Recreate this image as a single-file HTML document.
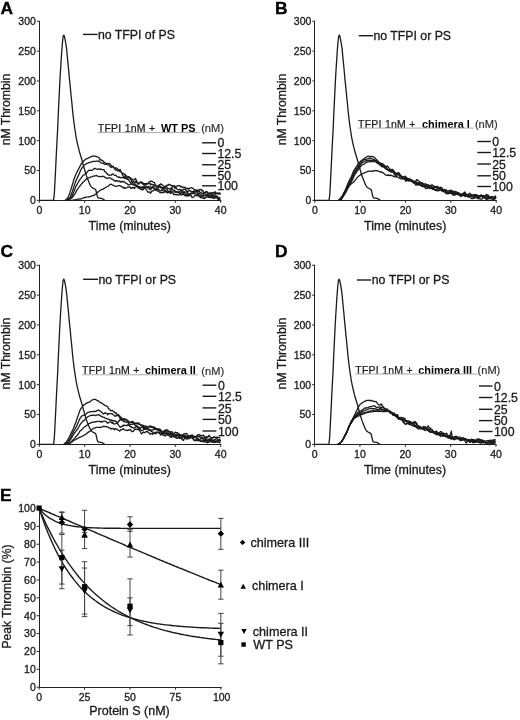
<!DOCTYPE html>
<html><head><meta charset="utf-8"><style>
html,body{margin:0;padding:0;background:#fff;}
svg{display:block;filter:blur(0.4px);}
text{font-family:"Liberation Sans", sans-serif;}
</style></head><body>
<svg width="520" height="720" viewBox="0 0 520 720">
<rect width="520" height="720" fill="#fff"/>
<text x="0.6" y="13.65" font-size="17.4" font-weight="bold" fill="#000" stroke="#000" stroke-width="0.35">A</text>
<line x1="39.5" y1="201" x2="39.5" y2="20.75" stroke="#222" stroke-width="1.0"/>
<line x1="39" y1="200.5" x2="221.3" y2="200.5" stroke="#222" stroke-width="1.0"/>
<line x1="36.8" y1="200.35" x2="39.3" y2="200.35" stroke="#2a2a2a" stroke-width="1"/>
<text x="35.9" y="204.25" font-size="10.5" text-anchor="end" fill="#1a1a1a" stroke="#1a1a1a" stroke-width="0.3" >0</text>
<line x1="36.8" y1="170.5" x2="39.3" y2="170.5" stroke="#2a2a2a" stroke-width="1"/>
<text x="35.9" y="174.4" font-size="10.5" text-anchor="end" fill="#1a1a1a" stroke="#1a1a1a" stroke-width="0.3" >50</text>
<line x1="36.8" y1="140.65" x2="39.3" y2="140.65" stroke="#2a2a2a" stroke-width="1"/>
<text x="35.9" y="144.55" font-size="10.5" text-anchor="end" fill="#1a1a1a" stroke="#1a1a1a" stroke-width="0.3" >100</text>
<line x1="36.8" y1="110.8" x2="39.3" y2="110.8" stroke="#2a2a2a" stroke-width="1"/>
<text x="35.9" y="114.7" font-size="10.5" text-anchor="end" fill="#1a1a1a" stroke="#1a1a1a" stroke-width="0.3" >150</text>
<line x1="36.8" y1="80.95" x2="39.3" y2="80.95" stroke="#2a2a2a" stroke-width="1"/>
<text x="35.9" y="84.85" font-size="10.5" text-anchor="end" fill="#1a1a1a" stroke="#1a1a1a" stroke-width="0.3" >200</text>
<line x1="36.8" y1="51.1" x2="39.3" y2="51.1" stroke="#2a2a2a" stroke-width="1"/>
<text x="35.9" y="55" font-size="10.5" text-anchor="end" fill="#1a1a1a" stroke="#1a1a1a" stroke-width="0.3" >250</text>
<line x1="36.8" y1="21.25" x2="39.3" y2="21.25" stroke="#2a2a2a" stroke-width="1"/>
<text x="35.9" y="25.15" font-size="10.5" text-anchor="end" fill="#1a1a1a" stroke="#1a1a1a" stroke-width="0.3" >300</text>
<line x1="39.3" y1="200.35" x2="39.3" y2="202.85" stroke="#2a2a2a" stroke-width="1"/>
<text x="39.3" y="213.75" font-size="10.5" text-anchor="middle" fill="#1a1a1a" stroke="#1a1a1a" stroke-width="0.3" >0</text>
<line x1="84.65" y1="200.35" x2="84.65" y2="202.85" stroke="#2a2a2a" stroke-width="1"/>
<text x="84.65" y="213.75" font-size="10.5" text-anchor="middle" fill="#1a1a1a" stroke="#1a1a1a" stroke-width="0.3" >10</text>
<line x1="130" y1="200.35" x2="130" y2="202.85" stroke="#2a2a2a" stroke-width="1"/>
<text x="130" y="213.75" font-size="10.5" text-anchor="middle" fill="#1a1a1a" stroke="#1a1a1a" stroke-width="0.3" >20</text>
<line x1="175.35" y1="200.35" x2="175.35" y2="202.85" stroke="#2a2a2a" stroke-width="1"/>
<text x="175.35" y="213.75" font-size="10.5" text-anchor="middle" fill="#1a1a1a" stroke="#1a1a1a" stroke-width="0.3" >30</text>
<line x1="220.7" y1="200.35" x2="220.7" y2="202.85" stroke="#2a2a2a" stroke-width="1"/>
<text x="220.7" y="213.75" font-size="10.5" text-anchor="middle" fill="#1a1a1a" stroke="#1a1a1a" stroke-width="0.3" >40</text>
<text x="129.7" y="230.15" font-size="12.4" text-anchor="middle" fill="#1a1a1a" stroke="#1a1a1a" stroke-width="0.3" >Time (minutes)</text>
<text x="10.4" y="109.55" font-size="12.2" text-anchor="middle" fill="#1a1a1a" stroke="#1a1a1a" stroke-width="0.3" transform="rotate(-90 10.4 109.55)">nM Thrombin</text>
<line x1="82.9" y1="34.4" x2="97.7" y2="34.4" stroke="#1a1a1a" stroke-width="1.4"/>
<text x="97.89" y="39.2" font-size="12.3" text-anchor="start" fill="#1a1a1a" stroke="#1a1a1a" stroke-width="0.3" >no TFPI of PS</text>
<text x="97.77" y="132" font-size="10.5" letter-spacing="0.25" fill="#1a1a1a" stroke="#1a1a1a" stroke-width="0.24">TFPI 1nM +</text>
<text x="160.99" y="132" font-size="10.9" text-anchor="start" font-weight="bold" fill="#000" >WT PS</text>
<text x="201.13" y="132.3" font-size="11.1" fill="#333" stroke="#333" stroke-width="0.21">(nM)</text>
<line x1="98" y1="132.6" x2="199.6" y2="132.6" stroke="#aaa" stroke-width="1.0"/>
<line x1="202.1" y1="142.8" x2="216" y2="142.8" stroke="#1a1a1a" stroke-width="1.4"/>
<text x="217.38" y="147.4" font-size="12.3" text-anchor="start" fill="#1a1a1a" stroke="#1a1a1a" stroke-width="0.3" >0</text>
<line x1="202.1" y1="153.5" x2="216" y2="153.5" stroke="#1a1a1a" stroke-width="1.4"/>
<text x="217.38" y="158.1" font-size="12.3" text-anchor="start" fill="#1a1a1a" stroke="#1a1a1a" stroke-width="0.3" >12.5</text>
<line x1="202.1" y1="164.8" x2="216" y2="164.8" stroke="#1a1a1a" stroke-width="1.4"/>
<text x="217.38" y="169.4" font-size="12.3" text-anchor="start" fill="#1a1a1a" stroke="#1a1a1a" stroke-width="0.3" >25</text>
<line x1="202.1" y1="175.6" x2="216" y2="175.6" stroke="#1a1a1a" stroke-width="1.4"/>
<text x="217.38" y="180.2" font-size="12.3" text-anchor="start" fill="#1a1a1a" stroke="#1a1a1a" stroke-width="0.3" >50</text>
<line x1="202.1" y1="185.8" x2="216" y2="185.8" stroke="#1a1a1a" stroke-width="1.4"/>
<text x="217.38" y="190.4" font-size="12.3" text-anchor="start" fill="#1a1a1a" stroke="#1a1a1a" stroke-width="0.3" >100</text>
<polyline fill="none" stroke="#1a1a1a" stroke-width="1.3" stroke-linejoin="round" points="39.3,200.3 40.0,200.3 40.7,200.3 41.3,200.3 42.0,200.3 42.7,200.3 43.4,200.3 44.1,200.3 44.7,200.3 45.4,200.3 46.1,200.3 46.8,200.3 47.5,200.3 48.1,200.3 48.8,200.3 49.5,200.3 50.2,200.3 50.9,200.3 51.5,200.3 52.2,200.3 52.9,200.3 53.6,199.9 54.3,194.1 54.9,183.3 55.6,169.4 56.3,154.6 57.0,141.0 57.7,128.1 58.3,113.8 59.0,99.2 59.7,84.9 60.4,72.0 61.1,61.3 61.7,52.0 62.4,43.0 63.1,36.6 63.8,35.1 64.5,36.6 65.1,39.7 65.8,43.5 66.5,48.1 67.2,55.0 67.9,62.6 68.6,69.5 69.2,76.4 69.9,83.4 70.6,90.5 71.3,97.5 72.0,104.3 72.6,110.9 73.3,117.1 74.0,122.8 74.7,128.0 75.4,132.5 76.0,136.5 76.7,140.1 77.4,143.4 78.1,146.4 78.8,149.1 79.4,151.6 80.1,154.0 80.8,156.3 81.5,158.5 82.2,160.8 82.8,163.2 83.5,165.7 84.2,168.2 84.9,170.6 85.6,173.0 86.2,175.2 86.9,177.1 87.6,178.8 88.3,180.6 89.0,182.3 89.6,183.9 90.3,185.3 91.0,186.4 91.7,187.2 92.4,187.8 93.0,188.1 93.7,188.5 94.4,188.8 95.1,189.2 95.8,190.0 96.4,192.4 97.1,195.5 97.8,197.6 98.5,198.0 99.2,198.1 99.8,198.1 100.5,198.2 101.2,198.4 101.9,198.6 102.6,198.9 103.2,199.2 103.9,199.6 104.6,200.0"/>
<polyline fill="none" stroke="#1a1a1a" stroke-width="1.3" stroke-linejoin="round" points="64.7,200.3 65.4,200.1 66.1,199.6 66.7,199.1 67.4,198.3 68.1,197.1 68.8,195.6 69.5,193.8 70.1,191.9 70.8,189.8 71.5,187.5 72.2,185.2 72.9,183.0 73.5,180.8 74.2,178.8 74.9,176.7 75.6,175.0 76.3,173.6 76.9,172.3 77.6,170.9 78.3,169.7 79.0,168.2 79.7,166.9 80.3,165.6 81.0,164.3 81.7,163.1 82.4,162.2 83.1,161.7 83.7,161.0 84.4,160.3 85.1,159.9 85.8,159.1 86.5,158.8 87.1,158.6 87.8,158.4 88.5,157.9 89.2,157.6 89.9,157.2 90.5,156.7 91.2,156.8 91.9,156.4 92.6,156.2 93.3,156.0 93.9,156.1 94.6,156.2 95.3,156.1 96.0,156.4 96.7,156.7 97.3,156.8 98.0,157.2 98.7,157.5 99.4,158.3 100.1,159.9 100.7,159.5 101.4,160.2 102.1,160.4 102.8,160.7 103.5,161.9 104.2,162.2 104.8,162.5 105.5,163.1 106.2,163.3 106.9,163.8 107.6,164.2 108.2,163.5 108.9,163.3 109.6,163.4 110.3,164.6 111.0,165.2 111.6,165.8 112.3,166.6 113.0,167.0 113.7,167.6 114.4,168.1 115.0,168.0 115.7,167.9 116.4,168.3 117.1,168.2 117.8,169.6 118.4,170.1 119.1,170.8 119.8,171.4 120.5,171.4 121.2,172.0 121.8,172.6 122.5,173.4 123.2,173.5 123.9,174.1 124.6,173.9 125.2,174.6 125.9,176.1 126.6,175.9 127.3,177.1 128.0,176.9 128.6,176.6 129.3,177.5 130.0,177.3 130.7,178.4 131.4,179.3 132.0,178.8 132.7,179.7 133.4,180.0 134.1,180.1 134.8,179.4 135.4,178.4 136.1,179.8 136.8,181.4 137.5,182.8 138.2,183.7 138.8,184.3 139.5,182.7 140.2,182.6 140.9,181.8 141.6,182.4 142.2,182.4 142.9,182.9 143.6,184.3 144.3,184.1 145.0,184.0 145.6,184.4 146.3,184.3 147.0,183.9 147.7,183.7 148.4,183.4 149.0,182.1 149.7,181.6 150.4,181.1 151.1,181.3 151.8,181.2 152.4,181.7 153.1,182.0 153.8,182.4 154.5,182.7 155.2,185.0 155.8,185.0 156.5,186.6 157.2,186.4 157.9,185.9 158.6,185.3 159.3,184.6 159.9,185.3 160.6,183.9 161.3,184.2 162.0,184.7 162.7,185.0 163.3,186.0 164.0,186.2 164.7,187.2 165.4,186.1 166.1,186.3 166.7,185.3 167.4,185.1 168.1,185.3 168.8,184.2 169.5,184.7 170.1,184.7 170.8,185.5 171.5,185.5 172.2,185.3 172.9,185.8 173.5,186.2 174.2,187.2 174.9,188.5 175.6,187.4 176.3,186.8 176.9,186.2 177.6,185.9 178.3,185.7 179.0,185.6 179.7,185.6 180.3,186.8 181.0,186.2 181.7,186.8 182.4,187.6 183.1,187.2 183.7,187.1 184.4,187.7 185.1,187.2 185.8,188.4 186.5,188.5 187.1,188.7 187.8,188.1 188.5,189.3 189.2,188.5 189.9,188.1 190.5,187.8 191.2,188.0 191.9,187.7 192.6,188.1 193.3,188.6 193.9,189.2 194.6,189.6 195.3,189.8 196.0,190.1 196.7,189.9 197.3,190.3 198.0,190.4 198.7,190.3 199.4,189.9 200.1,189.3 200.7,189.8 201.4,189.6 202.1,191.0 202.8,190.3 203.5,192.7 204.1,192.5 204.8,193.1 205.5,191.9 206.2,191.3 206.9,191.6 207.5,192.4 208.2,193.4 208.9,193.7 209.6,193.4 210.3,193.4 210.9,193.7 211.6,192.6 212.3,193.3 213.0,192.5 213.7,192.7 214.4,192.4 215.0,191.7 215.7,192.6 216.4,193.3 217.1,193.2 217.8,192.8 218.4,193.5 219.1,192.9 219.8,193.1 220.5,193.6"/>
<polyline fill="none" stroke="#1a1a1a" stroke-width="1.3" stroke-linejoin="round" points="65.6,200.3 66.3,200.2 67.0,199.9 67.6,199.5 68.3,199.0 69.0,198.3 69.7,197.6 70.4,196.5 71.0,195.0 71.7,193.2 72.4,191.4 73.1,189.3 73.8,187.1 74.4,185.1 75.1,183.1 75.8,181.3 76.5,179.7 77.2,178.1 77.8,176.7 78.5,175.4 79.2,173.7 79.9,172.1 80.6,170.4 81.2,169.4 81.9,168.0 82.6,167.1 83.3,166.1 84.0,165.2 84.7,164.8 85.3,164.5 86.0,164.0 86.7,163.5 87.4,163.4 88.1,163.0 88.7,162.6 89.4,162.4 90.1,162.3 90.8,162.1 91.5,161.8 92.1,161.8 92.8,161.4 93.5,161.3 94.2,161.3 94.9,161.5 95.5,161.4 96.2,161.2 96.9,161.2 97.6,161.3 98.3,161.0 98.9,161.0 99.6,161.7 100.3,162.1 101.0,162.7 101.7,163.2 102.3,163.2 103.0,163.4 103.7,163.6 104.4,164.2 105.1,164.3 105.7,164.2 106.4,164.4 107.1,164.4 107.8,164.8 108.5,165.0 109.1,165.3 109.8,166.1 110.5,166.8 111.2,167.6 111.9,166.8 112.5,166.7 113.2,166.2 113.9,167.7 114.6,168.8 115.3,169.9 115.9,169.6 116.6,170.1 117.3,170.4 118.0,171.0 118.7,170.3 119.3,170.7 120.0,169.3 120.7,171.1 121.4,172.2 122.1,173.6 122.7,175.4 123.4,176.3 124.1,176.2 124.8,176.0 125.5,177.4 126.1,177.6 126.8,177.6 127.5,178.0 128.2,177.9 128.9,177.2 129.5,177.6 130.2,179.0 130.9,179.4 131.6,181.3 132.3,181.6 132.9,181.2 133.6,181.3 134.3,182.7 135.0,182.2 135.7,181.5 136.3,182.6 137.0,182.6 137.7,182.9 138.4,183.1 139.1,183.2 139.8,182.8 140.4,182.5 141.1,182.5 141.8,183.2 142.5,184.1 143.2,183.5 143.8,183.8 144.5,183.7 145.2,183.7 145.9,184.2 146.6,183.2 147.2,184.0 147.9,183.6 148.6,183.4 149.3,183.6 150.0,183.3 150.6,185.0 151.3,184.1 152.0,184.2 152.7,184.8 153.4,184.6 154.0,185.7 154.7,185.4 155.4,185.9 156.1,186.9 156.8,187.0 157.4,187.0 158.1,187.2 158.8,186.7 159.5,187.1 160.2,187.0 160.8,187.5 161.5,188.3 162.2,188.8 162.9,188.9 163.6,188.4 164.2,187.9 164.9,187.0 165.6,187.0 166.3,186.7 167.0,187.2 167.6,188.1 168.3,188.6 169.0,188.6 169.7,188.9 170.4,189.2 171.0,188.2 171.7,187.6 172.4,187.0 173.1,186.1 173.8,186.2 174.4,185.7 175.1,186.1 175.8,187.8 176.5,188.5 177.2,189.2 177.8,189.6 178.5,190.0 179.2,189.7 179.9,189.4 180.6,189.5 181.2,189.8 181.9,190.3 182.6,190.7 183.3,189.3 184.0,189.2 184.6,189.4 185.3,189.6 186.0,190.2 186.7,191.4 187.4,191.2 188.0,191.4 188.7,191.1 189.4,190.5 190.1,191.1 190.8,191.0 191.4,191.3 192.1,191.7 192.8,191.7 193.5,191.0 194.2,191.9 194.9,191.2 195.5,192.1 196.2,191.3 196.9,191.2 197.6,191.3 198.3,191.9 198.9,190.2 199.6,191.9 200.3,192.4 201.0,192.6 201.7,193.3 202.3,193.5 203.0,193.5 203.7,193.8 204.4,192.7 205.1,193.2 205.7,192.8 206.4,192.7 207.1,192.5 207.8,193.1 208.5,193.1 209.1,193.0 209.8,193.6 210.5,193.1 211.2,193.8 211.9,194.7 212.5,194.9 213.2,195.3 213.9,194.0 214.6,193.4 215.3,194.2 215.9,193.2 216.6,193.8 217.3,193.5 218.0,193.9 218.7,193.8 219.3,194.1 220.0,193.8 220.7,194.2"/>
<polyline fill="none" stroke="#1a1a1a" stroke-width="1.3" stroke-linejoin="round" points="66.5,200.3 67.2,200.3 67.9,200.0 68.6,199.7 69.2,199.2 69.9,198.7 70.6,198.1 71.3,197.2 72.0,196.0 72.6,194.6 73.3,193.0 74.0,191.5 74.7,189.8 75.4,187.9 76.0,186.3 76.7,184.8 77.4,183.8 78.1,182.5 78.8,181.4 79.4,180.2 80.1,179.5 80.8,178.5 81.5,177.3 82.2,176.7 82.8,175.5 83.5,175.1 84.2,174.7 84.9,174.2 85.6,173.9 86.2,173.5 86.9,172.3 87.6,171.7 88.3,170.7 89.0,170.4 89.6,170.4 90.3,170.2 91.0,170.3 91.7,170.4 92.4,170.2 93.0,169.5 93.7,169.0 94.4,168.5 95.1,168.4 95.8,168.8 96.4,169.0 97.1,169.5 97.8,169.1 98.5,168.8 99.2,168.8 99.8,169.5 100.5,168.9 101.2,169.2 101.9,169.7 102.6,169.7 103.2,169.6 103.9,169.6 104.6,171.4 105.3,171.9 106.0,172.3 106.6,173.4 107.3,173.6 108.0,174.7 108.7,175.2 109.4,174.9 110.0,175.1 110.7,175.1 111.4,175.0 112.1,174.2 112.8,173.8 113.4,174.4 114.1,175.1 114.8,175.3 115.5,175.2 116.2,175.6 116.8,176.3 117.5,176.9 118.2,176.9 118.9,177.5 119.6,176.9 120.2,177.7 120.9,177.9 121.6,177.6 122.3,177.7 123.0,177.3 123.7,177.9 124.3,177.3 125.0,178.4 125.7,178.5 126.4,178.6 127.1,179.3 127.7,179.0 128.4,179.8 129.1,180.7 129.8,181.6 130.5,182.8 131.1,183.4 131.8,182.8 132.5,182.6 133.2,183.5 133.9,183.9 134.5,184.6 135.2,183.9 135.9,184.7 136.6,185.3 137.3,185.5 137.9,186.6 138.6,186.9 139.3,187.2 140.0,187.3 140.7,187.3 141.3,187.4 142.0,187.1 142.7,187.0 143.4,186.1 144.1,186.4 144.7,185.5 145.4,185.9 146.1,186.2 146.8,187.2 147.5,187.7 148.1,186.7 148.8,186.4 149.5,187.2 150.2,186.9 150.9,187.1 151.5,187.4 152.2,187.0 152.9,186.6 153.6,186.5 154.3,188.2 154.9,188.6 155.6,189.4 156.3,189.8 157.0,188.8 157.7,188.2 158.3,187.0 159.0,186.7 159.7,186.1 160.4,187.3 161.1,186.8 161.7,187.1 162.4,187.8 163.1,187.5 163.8,188.2 164.5,187.6 165.1,188.3 165.8,188.6 166.5,189.2 167.2,189.5 167.9,190.9 168.5,192.0 169.2,191.2 169.9,191.3 170.6,190.5 171.3,189.7 171.9,188.3 172.6,189.7 173.3,190.2 174.0,190.8 174.7,190.1 175.4,191.9 176.0,192.3 176.7,192.2 177.4,192.1 178.1,192.5 178.8,192.0 179.4,192.0 180.1,191.1 180.8,190.7 181.5,191.0 182.2,191.6 182.8,191.5 183.5,192.7 184.2,191.7 184.9,192.5 185.6,192.0 186.2,192.1 186.9,192.2 187.6,193.2 188.3,193.1 189.0,194.0 189.6,194.8 190.3,193.8 191.0,192.9 191.7,192.8 192.4,193.8 193.0,192.8 193.7,192.3 194.4,192.4 195.1,190.7 195.8,191.0 196.4,191.4 197.1,192.4 197.8,193.2 198.5,193.2 199.2,193.9 199.8,193.5 200.5,195.0 201.2,195.1 201.9,195.1 202.6,194.8 203.2,195.4 203.9,195.0 204.6,195.2 205.3,195.1 206.0,194.6 206.6,195.2 207.3,195.0 208.0,193.7 208.7,193.7 209.4,194.3 210.0,195.0 210.7,195.6 211.4,196.0 212.1,195.5 212.8,196.6 213.4,196.2 214.1,196.3 214.8,195.7 215.5,195.8 216.2,196.7 216.8,196.4 217.5,196.7 218.2,197.3 218.9,197.8 219.6,197.9 220.2,197.3"/>
<polyline fill="none" stroke="#1a1a1a" stroke-width="1.3" stroke-linejoin="round" points="67.9,200.3 68.6,200.0 69.2,199.7 69.9,199.3 70.6,198.8 71.3,198.3 72.0,197.7 72.6,197.0 73.3,196.2 74.0,195.2 74.7,194.2 75.4,193.1 76.0,191.9 76.7,190.7 77.4,189.5 78.1,188.5 78.8,187.5 79.4,186.6 80.1,185.7 80.8,185.0 81.5,184.0 82.2,183.2 82.8,182.5 83.5,181.7 84.2,181.2 84.9,180.4 85.6,179.7 86.2,179.1 86.9,178.6 87.6,178.3 88.3,178.0 89.0,177.7 89.6,177.6 90.3,177.1 91.0,177.0 91.7,176.8 92.4,176.7 93.0,176.2 93.7,176.1 94.4,176.0 95.1,175.9 95.8,175.7 96.4,175.4 97.1,175.9 97.8,176.3 98.5,176.3 99.2,176.6 99.8,176.7 100.5,176.5 101.2,176.5 101.9,176.7 102.6,176.2 103.2,176.4 103.9,176.5 104.6,177.1 105.3,177.6 106.0,178.0 106.6,178.1 107.3,178.4 108.0,178.0 108.7,178.2 109.4,177.8 110.0,177.8 110.7,178.0 111.4,179.2 112.1,179.1 112.8,179.3 113.4,180.2 114.1,180.6 114.8,180.5 115.5,181.3 116.2,180.6 116.8,180.6 117.5,181.1 118.2,181.4 118.9,181.0 119.6,181.2 120.2,182.1 120.9,181.4 121.6,182.1 122.3,181.3 123.0,181.8 123.7,181.9 124.3,181.5 125.0,182.7 125.7,183.1 126.4,183.2 127.1,183.8 127.7,184.4 128.4,184.9 129.1,184.9 129.8,184.7 130.5,184.1 131.1,184.2 131.8,184.3 132.5,184.8 133.2,184.8 133.9,184.7 134.5,185.3 135.2,184.9 135.9,185.3 136.6,185.9 137.3,185.4 137.9,186.5 138.6,187.1 139.3,186.7 140.0,187.0 140.7,187.1 141.3,187.7 142.0,187.7 142.7,188.1 143.4,187.4 144.1,187.1 144.7,187.8 145.4,187.4 146.1,187.5 146.8,187.5 147.5,187.2 148.1,187.9 148.8,188.2 149.5,189.4 150.2,189.8 150.9,188.0 151.5,188.8 152.2,188.0 152.9,187.3 153.6,187.7 154.3,188.3 154.9,188.4 155.6,188.6 156.3,189.7 157.0,189.5 157.7,188.8 158.3,189.1 159.0,190.0 159.7,190.0 160.4,191.0 161.1,190.7 161.7,190.0 162.4,190.6 163.1,189.9 163.8,189.5 164.5,190.4 165.1,190.7 165.8,190.4 166.5,191.7 167.2,193.0 167.9,192.3 168.5,192.1 169.2,192.0 169.9,192.1 170.6,191.7 171.3,192.1 171.9,191.5 172.6,192.0 173.3,191.8 174.0,192.0 174.7,192.2 175.4,191.6 176.0,192.1 176.7,191.6 177.4,191.9 178.1,192.5 178.8,192.5 179.4,193.3 180.1,193.1 180.8,193.3 181.5,191.9 182.2,193.1 182.8,193.5 183.5,193.1 184.2,193.8 184.9,194.0 185.6,194.3 186.2,193.7 186.9,194.2 187.6,194.4 188.3,193.9 189.0,194.7 189.6,194.9 190.3,194.4 191.0,194.1 191.7,193.4 192.4,193.2 193.0,193.4 193.7,193.1 194.4,193.8 195.1,193.9 195.8,193.9 196.4,194.3 197.1,194.0 197.8,194.0 198.5,195.2 199.2,196.6 199.8,196.3 200.5,197.7 201.2,195.7 201.9,195.6 202.6,195.8 203.2,195.5 203.9,196.0 204.6,195.8 205.3,195.8 206.0,195.5 206.6,194.8 207.3,195.9 208.0,195.2 208.7,195.6 209.4,195.2 210.0,196.2 210.7,196.3 211.4,196.1 212.1,196.5 212.8,195.9 213.4,196.3 214.1,197.6 214.8,197.7 215.5,196.6 216.2,196.0 216.8,196.1 217.5,197.1 218.2,197.8 218.9,198.2 219.6,199.3 220.2,198.3"/>
<polyline fill="none" stroke="#1a1a1a" stroke-width="1.3" stroke-linejoin="round" points="71.0,200.3 71.7,200.3 72.4,200.2 73.1,200.1 73.8,200.0 74.4,199.9 75.1,199.8 75.8,199.7 76.5,199.6 77.2,199.4 77.8,199.2 78.5,199.1 79.2,199.1 79.9,199.0 80.6,199.1 81.2,198.8 81.9,198.4 82.6,198.0 83.3,197.8 84.0,198.0 84.7,197.5 85.3,197.4 86.0,197.1 86.7,197.2 87.4,197.0 88.1,196.8 88.7,196.7 89.4,196.8 90.1,196.6 90.8,196.2 91.5,196.1 92.1,195.9 92.8,195.5 93.5,195.6 94.2,195.1 94.9,194.6 95.5,194.1 96.2,193.7 96.9,193.1 97.6,192.2 98.3,191.9 98.9,191.4 99.6,190.7 100.3,190.3 101.0,189.7 101.7,189.7 102.3,189.3 103.0,189.1 103.7,188.6 104.4,188.4 105.1,187.7 105.7,187.5 106.4,187.0 107.1,186.7 107.8,186.4 108.5,186.0 109.1,185.5 109.8,184.4 110.5,184.3 111.2,184.2 111.9,184.6 112.5,185.2 113.2,185.3 113.9,185.6 114.6,185.9 115.3,186.2 115.9,186.3 116.6,186.3 117.3,186.2 118.0,185.8 118.7,185.6 119.3,185.6 120.0,185.7 120.7,186.3 121.4,186.4 122.1,186.9 122.7,186.9 123.4,188.1 124.1,187.4 124.8,188.5 125.5,188.0 126.1,188.2 126.8,187.7 127.5,187.1 128.2,187.0 128.9,187.1 129.5,187.2 130.2,186.9 130.9,188.4 131.6,188.1 132.3,187.6 132.9,188.1 133.6,187.2 134.3,188.4 135.0,187.6 135.7,186.9 136.3,186.6 137.0,186.8 137.7,186.8 138.4,188.1 139.1,188.1 139.8,188.6 140.4,189.1 141.1,188.6 141.8,189.9 142.5,189.3 143.2,189.7 143.8,188.6 144.5,188.0 145.2,188.5 145.9,188.9 146.6,189.8 147.2,191.0 147.9,192.3 148.6,192.0 149.3,192.1 150.0,192.1 150.6,193.3 151.3,191.9 152.0,190.8 152.7,190.8 153.4,190.8 154.0,189.9 154.7,189.6 155.4,190.3 156.1,189.9 156.8,190.1 157.4,191.0 158.1,191.4 158.8,191.1 159.5,192.1 160.2,192.8 160.8,192.4 161.5,192.5 162.2,192.6 162.9,192.5 163.6,192.6 164.2,191.0 164.9,192.3 165.6,191.9 166.3,191.8 167.0,191.7 167.6,192.3 168.3,192.2 169.0,192.6 169.7,192.3 170.4,193.4 171.0,192.3 171.7,192.9 172.4,193.0 173.1,193.6 173.8,194.6 174.4,194.5 175.1,194.6 175.8,194.2 176.5,194.9 177.2,194.4 177.8,194.8 178.5,195.1 179.2,194.9 179.9,194.5 180.6,194.4 181.2,195.0 181.9,194.7 182.6,194.7 183.3,194.5 184.0,194.4 184.6,195.5 185.3,195.5 186.0,196.1 186.7,194.7 187.4,195.6 188.0,196.2 188.7,194.7 189.4,195.6 190.1,195.5 190.8,195.5 191.4,195.9 192.1,197.6 192.8,197.4 193.5,197.1 194.2,196.3 194.9,195.6 195.5,195.2 196.2,195.5 196.9,196.1 197.6,195.5 198.3,194.8 198.9,195.4 199.6,196.3 200.3,196.5 201.0,196.3 201.7,197.5 202.3,198.0 203.0,196.9 203.7,198.4 204.4,198.6 205.1,197.4 205.7,197.9 206.4,197.2 207.1,196.9 207.8,196.4 208.5,197.4 209.1,196.8 209.8,197.7 210.5,197.4 211.2,197.5 211.9,197.7 212.5,197.2 213.2,198.3 213.9,198.3 214.6,198.1 215.3,197.8 215.9,197.3 216.6,198.0 217.3,198.2 218.0,199.4 218.7,199.3 219.3,199.7 220.0,200.1 220.7,199.9"/>
<text x="274.9" y="13.65" font-size="17.4" font-weight="bold" fill="#000" stroke="#000" stroke-width="0.35">B</text>
<line x1="314.5" y1="201" x2="314.5" y2="20.75" stroke="#222" stroke-width="1.0"/>
<line x1="314" y1="200.5" x2="496.8" y2="200.5" stroke="#222" stroke-width="1.0"/>
<line x1="312.3" y1="200.35" x2="314.8" y2="200.35" stroke="#2a2a2a" stroke-width="1"/>
<text x="311.4" y="204.25" font-size="10.5" text-anchor="end" fill="#1a1a1a" stroke="#1a1a1a" stroke-width="0.3" >0</text>
<line x1="312.3" y1="170.5" x2="314.8" y2="170.5" stroke="#2a2a2a" stroke-width="1"/>
<text x="311.4" y="174.4" font-size="10.5" text-anchor="end" fill="#1a1a1a" stroke="#1a1a1a" stroke-width="0.3" >50</text>
<line x1="312.3" y1="140.65" x2="314.8" y2="140.65" stroke="#2a2a2a" stroke-width="1"/>
<text x="311.4" y="144.55" font-size="10.5" text-anchor="end" fill="#1a1a1a" stroke="#1a1a1a" stroke-width="0.3" >100</text>
<line x1="312.3" y1="110.8" x2="314.8" y2="110.8" stroke="#2a2a2a" stroke-width="1"/>
<text x="311.4" y="114.7" font-size="10.5" text-anchor="end" fill="#1a1a1a" stroke="#1a1a1a" stroke-width="0.3" >150</text>
<line x1="312.3" y1="80.95" x2="314.8" y2="80.95" stroke="#2a2a2a" stroke-width="1"/>
<text x="311.4" y="84.85" font-size="10.5" text-anchor="end" fill="#1a1a1a" stroke="#1a1a1a" stroke-width="0.3" >200</text>
<line x1="312.3" y1="51.1" x2="314.8" y2="51.1" stroke="#2a2a2a" stroke-width="1"/>
<text x="311.4" y="55" font-size="10.5" text-anchor="end" fill="#1a1a1a" stroke="#1a1a1a" stroke-width="0.3" >250</text>
<line x1="312.3" y1="21.25" x2="314.8" y2="21.25" stroke="#2a2a2a" stroke-width="1"/>
<text x="311.4" y="25.15" font-size="10.5" text-anchor="end" fill="#1a1a1a" stroke="#1a1a1a" stroke-width="0.3" >300</text>
<line x1="314.8" y1="200.35" x2="314.8" y2="202.85" stroke="#2a2a2a" stroke-width="1"/>
<text x="314.8" y="213.75" font-size="10.5" text-anchor="middle" fill="#1a1a1a" stroke="#1a1a1a" stroke-width="0.3" >0</text>
<line x1="360.15" y1="200.35" x2="360.15" y2="202.85" stroke="#2a2a2a" stroke-width="1"/>
<text x="360.15" y="213.75" font-size="10.5" text-anchor="middle" fill="#1a1a1a" stroke="#1a1a1a" stroke-width="0.3" >10</text>
<line x1="405.5" y1="200.35" x2="405.5" y2="202.85" stroke="#2a2a2a" stroke-width="1"/>
<text x="405.5" y="213.75" font-size="10.5" text-anchor="middle" fill="#1a1a1a" stroke="#1a1a1a" stroke-width="0.3" >20</text>
<line x1="450.85" y1="200.35" x2="450.85" y2="202.85" stroke="#2a2a2a" stroke-width="1"/>
<text x="450.85" y="213.75" font-size="10.5" text-anchor="middle" fill="#1a1a1a" stroke="#1a1a1a" stroke-width="0.3" >30</text>
<line x1="496.2" y1="200.35" x2="496.2" y2="202.85" stroke="#2a2a2a" stroke-width="1"/>
<text x="496.2" y="213.75" font-size="10.5" text-anchor="middle" fill="#1a1a1a" stroke="#1a1a1a" stroke-width="0.3" >40</text>
<text x="405.2" y="230.15" font-size="12.4" text-anchor="middle" fill="#1a1a1a" stroke="#1a1a1a" stroke-width="0.3" >Time (minutes)</text>
<text x="285.9" y="109.55" font-size="12.2" text-anchor="middle" fill="#1a1a1a" stroke="#1a1a1a" stroke-width="0.3" transform="rotate(-90 285.9 109.55)">nM Thrombin</text>
<line x1="358.8" y1="35.7" x2="373.1" y2="35.7" stroke="#1a1a1a" stroke-width="1.4"/>
<text x="373.39" y="39.6" font-size="12.3" text-anchor="start" fill="#1a1a1a" stroke="#1a1a1a" stroke-width="0.3" >no TFPI or PS</text>
<text x="357.97" y="127.8" font-size="10.5" letter-spacing="0.25" fill="#1a1a1a" stroke="#1a1a1a" stroke-width="0.24">TFPI 1nM +</text>
<text x="422.07" y="127.8" font-size="10.9" text-anchor="start" font-weight="bold" fill="#000" >chimera I</text>
<text x="474.93" y="128.1" font-size="11.1" fill="#333" stroke="#333" stroke-width="0.21">(nM)</text>
<line x1="358.2" y1="128.1" x2="473.6" y2="128.1" stroke="#aaa" stroke-width="1.0"/>
<line x1="477.3" y1="141.5" x2="490.9" y2="141.5" stroke="#1a1a1a" stroke-width="1.4"/>
<text x="492.28" y="146.1" font-size="12.3" text-anchor="start" fill="#1a1a1a" stroke="#1a1a1a" stroke-width="0.3" >0</text>
<line x1="477.3" y1="152.5" x2="490.9" y2="152.5" stroke="#1a1a1a" stroke-width="1.4"/>
<text x="492.28" y="157.1" font-size="12.3" text-anchor="start" fill="#1a1a1a" stroke="#1a1a1a" stroke-width="0.3" >12.5</text>
<line x1="477.3" y1="164" x2="490.9" y2="164" stroke="#1a1a1a" stroke-width="1.4"/>
<text x="492.28" y="168.6" font-size="12.3" text-anchor="start" fill="#1a1a1a" stroke="#1a1a1a" stroke-width="0.3" >25</text>
<line x1="477.3" y1="175.8" x2="490.9" y2="175.8" stroke="#1a1a1a" stroke-width="1.4"/>
<text x="492.28" y="180.4" font-size="12.3" text-anchor="start" fill="#1a1a1a" stroke="#1a1a1a" stroke-width="0.3" >50</text>
<line x1="477.3" y1="186.5" x2="490.9" y2="186.5" stroke="#1a1a1a" stroke-width="1.4"/>
<text x="492.28" y="191.1" font-size="12.3" text-anchor="start" fill="#1a1a1a" stroke="#1a1a1a" stroke-width="0.3" >100</text>
<polyline fill="none" stroke="#1a1a1a" stroke-width="1.3" stroke-linejoin="round" points="314.8,200.3 315.5,200.3 316.2,200.3 316.8,200.3 317.5,200.3 318.2,200.3 318.9,200.3 319.6,200.3 320.2,200.3 320.9,200.3 321.6,200.3 322.3,200.3 323.0,200.3 323.6,200.3 324.3,200.3 325.0,200.3 325.7,200.3 326.4,200.3 327.0,200.3 327.7,200.3 328.4,200.3 329.1,199.9 329.8,194.1 330.4,183.3 331.1,169.4 331.8,154.6 332.5,141.0 333.2,128.1 333.8,113.8 334.5,99.2 335.2,84.9 335.9,72.0 336.6,61.3 337.2,52.0 337.9,43.0 338.6,36.6 339.3,35.1 340.0,36.6 340.6,39.7 341.3,43.5 342.0,48.1 342.7,55.0 343.4,62.6 344.1,69.5 344.7,76.4 345.4,83.4 346.1,90.5 346.8,97.5 347.5,104.3 348.1,110.9 348.8,117.1 349.5,122.8 350.2,128.0 350.9,132.5 351.5,136.5 352.2,140.1 352.9,143.4 353.6,146.4 354.3,149.1 354.9,151.6 355.6,154.0 356.3,156.3 357.0,158.5 357.7,160.8 358.3,163.2 359.0,165.7 359.7,168.2 360.4,170.6 361.1,173.0 361.7,175.2 362.4,177.1 363.1,178.8 363.8,180.6 364.5,182.3 365.1,183.9 365.8,185.3 366.5,186.4 367.2,187.2 367.9,187.8 368.5,188.1 369.2,188.5 369.9,188.8 370.6,189.2 371.3,190.0 371.9,192.4 372.6,195.5 373.3,197.6 374.0,198.0 374.7,198.1 375.3,198.1 376.0,198.2 376.7,198.4 377.4,198.6 378.1,198.9 378.7,199.2 379.4,199.6 380.1,200.0"/>
<polyline fill="none" stroke="#1a1a1a" stroke-width="1.3" stroke-linejoin="round" points="338.4,200.3 339.1,199.8 339.7,199.1 340.4,198.3 341.1,197.5 341.8,196.6 342.5,195.5 343.1,194.3 343.8,192.9 344.5,191.6 345.2,190.1 345.9,188.5 346.5,186.9 347.2,185.2 347.9,183.6 348.6,181.9 349.3,180.7 349.9,179.2 350.6,178.1 351.3,176.8 352.0,174.9 352.7,173.2 353.3,171.7 354.0,170.1 354.7,169.4 355.4,168.1 356.1,167.1 356.7,166.3 357.4,165.1 358.1,164.0 358.8,162.9 359.5,162.1 360.2,161.7 360.8,160.9 361.5,160.9 362.2,160.2 362.9,159.6 363.6,159.1 364.2,158.7 364.9,157.9 365.6,157.6 366.3,157.0 367.0,156.8 367.6,156.3 368.3,156.1 369.0,156.2 369.7,156.6 370.4,156.6 371.0,156.5 371.7,156.4 372.4,156.6 373.1,156.7 373.8,157.2 374.4,157.4 375.1,158.3 375.8,159.0 376.5,159.3 377.2,160.3 377.8,161.1 378.5,161.6 379.2,163.2 379.9,162.6 380.6,163.4 381.2,163.4 381.9,163.7 382.6,163.6 383.3,164.3 384.0,164.8 384.6,165.4 385.3,166.4 386.0,166.6 386.7,167.0 387.4,165.9 388.0,166.5 388.7,167.8 389.4,168.6 390.1,169.9 390.8,170.5 391.4,170.7 392.1,170.7 392.8,170.0 393.5,170.4 394.2,171.6 394.8,172.4 395.5,172.9 396.2,173.9 396.9,173.6 397.6,173.4 398.2,174.1 398.9,174.9 399.6,175.3 400.3,176.0 401.0,176.1 401.6,176.7 402.3,176.5 403.0,178.0 403.7,177.1 404.4,177.1 405.0,176.2 405.7,176.6 406.4,177.7 407.1,177.9 407.8,178.8 408.4,179.2 409.1,180.8 409.8,180.7 410.5,180.6 411.2,180.5 411.8,181.8 412.5,181.9 413.2,181.4 413.9,181.4 414.6,181.5 415.3,182.2 415.9,181.6 416.6,182.4 417.3,182.9 418.0,182.7 418.7,183.1 419.3,182.7 420.0,183.0 420.7,183.3 421.4,183.4 422.1,182.7 422.7,184.1 423.4,184.3 424.1,184.3 424.8,184.4 425.5,183.6 426.1,184.4 426.8,184.7 427.5,185.2 428.2,184.6 428.9,185.3 429.5,186.0 430.2,185.8 430.9,185.1 431.6,185.1 432.3,184.9 432.9,185.5 433.6,185.9 434.3,186.2 435.0,186.9 435.7,186.7 436.3,186.3 437.0,186.9 437.7,186.4 438.4,187.6 439.1,188.3 439.7,188.0 440.4,189.7 441.1,189.5 441.8,190.0 442.5,191.2 443.1,191.7 443.8,191.8 444.5,192.0 445.2,191.6 445.9,191.3 446.5,192.9 447.2,193.2 447.9,193.5 448.6,192.9 449.3,193.2 449.9,193.5 450.6,193.3 451.3,192.5 452.0,193.5 452.7,192.1 453.3,192.8 454.0,192.5 454.7,192.2 455.4,192.3 456.1,191.8 456.7,192.2 457.4,192.4 458.1,193.0 458.8,194.0 459.5,194.9 460.1,195.0 460.8,195.1 461.5,195.9 462.2,195.3 462.9,194.6 463.5,193.1 464.2,192.6 464.9,191.9 465.6,193.6 466.3,194.7 466.9,194.6 467.6,195.2 468.3,194.1 469.0,193.8 469.7,193.1 470.4,194.1 471.0,194.3 471.7,194.9 472.4,195.6 473.1,195.2 473.8,195.7 474.4,195.9 475.1,194.5 475.8,194.7 476.5,194.7 477.2,195.1 477.8,196.1 478.5,195.7 479.2,196.3 479.9,196.3 480.6,196.7 481.2,196.1 481.9,196.1 482.6,196.8 483.3,196.1 484.0,196.5 484.6,195.6 485.3,195.8 486.0,194.9 486.7,194.6 487.4,194.8 488.0,195.6 488.7,196.1 489.4,197.1 490.1,197.4 490.8,197.7 491.4,198.3 492.1,198.0 492.8,198.7 493.5,198.5 494.2,198.1 494.8,197.1 495.5,196.1 496.2,196.2"/>
<polyline fill="none" stroke="#1a1a1a" stroke-width="1.3" stroke-linejoin="round" points="338.6,200.3 339.3,199.8 340.0,199.2 340.6,198.4 341.3,197.6 342.0,196.8 342.7,195.8 343.4,194.6 344.1,193.4 344.7,192.0 345.4,190.7 346.1,189.3 346.8,187.7 347.5,186.3 348.1,184.8 348.8,183.3 349.5,182.2 350.2,180.9 350.9,179.8 351.5,178.0 352.2,176.4 352.9,174.8 353.6,173.2 354.3,172.2 354.9,170.7 355.6,169.8 356.3,168.5 357.0,167.4 357.7,166.3 358.3,165.3 359.0,164.3 359.7,163.3 360.4,162.7 361.1,162.2 361.7,161.5 362.4,160.9 363.1,160.1 363.8,160.0 364.5,159.7 365.1,159.6 365.8,159.4 366.5,159.2 367.2,158.9 367.9,158.7 368.5,158.4 369.2,158.5 369.9,158.1 370.6,158.1 371.3,158.5 371.9,158.9 372.6,159.1 373.3,159.4 374.0,160.1 374.7,160.0 375.3,160.5 376.0,160.6 376.7,160.9 377.4,161.4 378.1,161.8 378.7,162.7 379.4,163.1 380.1,163.4 380.8,164.4 381.5,164.0 382.1,165.3 382.8,165.0 383.5,166.4 384.2,166.0 384.9,167.1 385.5,167.8 386.2,168.7 386.9,169.1 387.6,169.6 388.3,170.3 388.9,170.4 389.6,171.3 390.3,171.3 391.0,171.6 391.7,171.9 392.3,171.4 393.0,170.4 393.7,171.8 394.4,172.9 395.1,173.7 395.7,173.8 396.4,174.0 397.1,173.7 397.8,173.9 398.5,174.1 399.2,174.9 399.8,176.5 400.5,175.6 401.2,176.1 401.9,177.5 402.6,177.2 403.2,177.8 403.9,178.4 404.6,177.6 405.3,178.8 406.0,179.2 406.6,179.4 407.3,179.9 408.0,180.3 408.7,180.5 409.4,180.1 410.0,179.9 410.7,179.7 411.4,179.7 412.1,180.6 412.8,180.9 413.4,181.7 414.1,183.4 414.8,183.7 415.5,181.9 416.2,180.4 416.8,179.5 417.5,180.3 418.2,180.3 418.9,181.1 419.6,182.0 420.2,182.3 420.9,182.2 421.6,183.6 422.3,183.1 423.0,183.4 423.6,184.1 424.3,184.4 425.0,185.5 425.7,185.3 426.4,186.2 427.0,187.0 427.7,187.2 428.4,187.1 429.1,186.8 429.8,186.7 430.4,187.5 431.1,188.3 431.8,187.4 432.5,188.7 433.2,187.9 433.8,187.7 434.5,186.6 435.2,187.5 435.9,186.8 436.6,187.4 437.2,188.4 437.9,188.1 438.6,188.4 439.3,188.0 440.0,189.1 440.6,188.6 441.3,189.2 442.0,190.5 442.7,189.9 443.4,189.6 444.0,190.2 444.7,190.8 445.4,191.0 446.1,191.6 446.8,192.5 447.4,192.4 448.1,192.2 448.8,191.8 449.5,191.2 450.2,190.8 450.9,190.0 451.5,191.1 452.2,191.6 452.9,193.3 453.6,193.7 454.3,193.4 454.9,193.3 455.6,193.8 456.3,192.7 457.0,193.6 457.7,193.0 458.3,194.4 459.0,194.1 459.7,194.5 460.4,194.4 461.1,194.8 461.7,194.5 462.4,194.9 463.1,195.3 463.8,194.8 464.5,194.4 465.1,194.8 465.8,194.2 466.5,194.8 467.2,195.1 467.9,195.4 468.5,195.7 469.2,197.0 469.9,195.6 470.6,195.2 471.3,195.7 471.9,195.7 472.6,195.5 473.3,195.3 474.0,194.6 474.7,195.3 475.3,195.1 476.0,195.5 476.7,195.3 477.4,196.0 478.1,196.0 478.7,196.5 479.4,195.6 480.1,196.1 480.8,196.4 481.5,196.4 482.1,195.5 482.8,195.9 483.5,195.5 484.2,195.9 484.9,195.8 485.5,195.7 486.2,196.4 486.9,195.6 487.6,196.3 488.3,195.3 488.9,197.5 489.6,197.5 490.3,197.0 491.0,196.9 491.7,196.6 492.3,196.7 493.0,196.9 493.7,197.3 494.4,196.9 495.1,196.4 495.7,196.5"/>
<polyline fill="none" stroke="#1a1a1a" stroke-width="1.3" stroke-linejoin="round" points="338.8,200.3 339.5,199.8 340.2,199.3 340.9,198.6 341.6,197.9 342.2,197.1 342.9,196.2 343.6,195.1 344.3,194.0 345.0,192.8 345.6,191.4 346.3,190.0 347.0,188.6 347.7,187.4 348.4,186.1 349.0,184.8 349.7,183.5 350.4,182.5 351.1,181.0 351.8,179.3 352.4,178.0 353.1,176.5 353.8,175.1 354.5,173.5 355.2,172.6 355.8,171.3 356.5,170.3 357.2,169.1 357.9,168.1 358.6,167.4 359.2,166.2 359.9,165.5 360.6,164.3 361.3,163.8 362.0,162.9 362.6,162.5 363.3,162.1 364.0,161.8 364.7,161.3 365.4,161.0 366.0,161.1 366.7,160.6 367.4,160.5 368.1,160.3 368.8,160.4 369.4,160.1 370.1,160.5 370.8,160.4 371.5,160.6 372.2,160.5 372.8,160.2 373.5,160.4 374.2,160.0 374.9,160.9 375.6,161.6 376.2,161.9 376.9,162.8 377.6,163.7 378.3,163.6 379.0,163.6 379.7,164.4 380.3,164.3 381.0,164.4 381.7,165.4 382.4,165.2 383.1,166.3 383.7,166.8 384.4,167.5 385.1,168.5 385.8,168.8 386.5,169.4 387.1,169.7 387.8,169.6 388.5,170.2 389.2,170.8 389.9,170.3 390.5,169.5 391.2,169.6 391.9,169.4 392.6,169.5 393.3,171.7 393.9,173.8 394.6,174.3 395.3,175.9 396.0,175.2 396.7,175.0 397.3,175.1 398.0,174.1 398.7,174.6 399.4,175.6 400.1,176.9 400.7,176.5 401.4,177.7 402.1,176.9 402.8,176.9 403.5,177.2 404.1,177.0 404.8,177.8 405.5,178.6 406.2,178.7 406.9,178.4 407.5,179.9 408.2,179.0 408.9,179.7 409.6,178.4 410.3,180.3 410.9,180.9 411.6,179.9 412.3,180.3 413.0,181.3 413.7,181.5 414.3,182.4 415.0,182.4 415.7,182.4 416.4,183.4 417.1,184.2 417.7,185.2 418.4,184.6 419.1,184.3 419.8,184.4 420.5,185.5 421.1,184.9 421.8,185.3 422.5,185.1 423.2,184.8 423.9,183.9 424.5,185.0 425.2,185.2 425.9,185.6 426.6,185.3 427.3,186.4 427.9,185.7 428.6,185.7 429.3,186.5 430.0,185.5 430.7,185.3 431.3,186.6 432.0,186.5 432.7,187.7 433.4,188.5 434.1,188.4 434.8,189.1 435.4,190.3 436.1,190.8 436.8,190.1 437.5,190.8 438.2,190.8 438.8,190.4 439.5,190.5 440.2,190.2 440.9,189.5 441.6,190.9 442.2,189.7 442.9,190.9 443.6,190.3 444.3,189.9 445.0,189.4 445.6,191.1 446.3,189.9 447.0,190.8 447.7,190.9 448.4,191.0 449.0,190.7 449.7,190.6 450.4,191.7 451.1,192.8 451.8,193.5 452.4,194.8 453.1,195.2 453.8,194.2 454.5,195.2 455.2,194.9 455.8,194.5 456.5,194.3 457.2,194.1 457.9,193.9 458.6,193.9 459.2,193.2 459.9,193.7 460.6,194.1 461.3,194.3 462.0,193.9 462.6,193.7 463.3,194.8 464.0,195.8 464.7,196.1 465.4,196.6 466.0,196.2 466.7,195.6 467.4,195.2 468.1,195.2 468.8,195.0 469.4,196.4 470.1,197.5 470.8,197.9 471.5,198.5 472.2,198.4 472.8,198.7 473.5,197.5 474.2,196.7 474.9,196.5 475.6,195.9 476.2,196.3 476.9,196.8 477.6,196.5 478.3,197.3 479.0,196.7 479.6,197.4 480.3,195.8 481.0,196.2 481.7,196.0 482.4,196.8 483.0,197.6 483.7,197.5 484.4,197.7 485.1,197.6 485.8,197.7 486.4,197.5 487.1,197.9 487.8,198.3 488.5,197.7 489.2,198.0 489.9,197.4 490.5,197.6 491.2,197.8 491.9,198.5 492.6,198.4 493.3,198.8 493.9,198.9 494.6,198.5 495.3,197.8 496.0,197.2"/>
<polyline fill="none" stroke="#1a1a1a" stroke-width="1.3" stroke-linejoin="round" points="339.1,200.3 339.7,199.9 340.4,199.4 341.1,198.8 341.8,198.1 342.5,197.4 343.1,196.6 343.8,195.6 344.5,194.5 345.2,193.4 345.9,192.1 346.5,191.0 347.2,189.6 347.9,188.3 348.6,187.1 349.3,185.7 349.9,184.7 350.6,183.2 351.3,181.7 352.0,180.6 352.7,179.2 353.3,178.0 354.0,176.3 354.7,175.0 355.4,174.0 356.1,172.8 356.7,171.8 357.4,170.6 358.1,170.0 358.8,168.8 359.5,168.2 360.2,166.9 360.8,166.3 361.5,165.3 362.2,164.8 362.9,164.6 363.6,164.3 364.2,164.1 364.9,163.4 365.6,163.0 366.3,162.7 367.0,162.3 367.6,161.8 368.3,161.8 369.0,161.9 369.7,161.9 370.4,161.6 371.0,161.6 371.7,161.4 372.4,161.5 373.1,161.5 373.8,161.7 374.4,161.5 375.1,161.7 375.8,161.9 376.5,162.0 377.2,162.6 377.8,163.1 378.5,163.5 379.2,164.0 379.9,165.2 380.6,165.4 381.2,165.9 381.9,166.8 382.6,166.5 383.3,166.8 384.0,167.0 384.6,167.5 385.3,167.6 386.0,167.6 386.7,167.7 387.4,169.0 388.0,170.2 388.7,169.7 389.4,170.6 390.1,170.8 390.8,172.0 391.4,171.6 392.1,171.7 392.8,172.2 393.5,171.8 394.2,172.2 394.8,173.2 395.5,172.9 396.2,173.8 396.9,173.1 397.6,173.3 398.2,172.8 398.9,172.6 399.6,174.0 400.3,174.8 401.0,175.8 401.6,177.7 402.3,178.3 403.0,178.4 403.7,179.2 404.4,178.8 405.0,178.7 405.7,179.3 406.4,178.5 407.1,179.0 407.8,179.4 408.4,179.8 409.1,179.9 409.8,180.0 410.5,179.8 411.2,181.2 411.8,181.3 412.5,181.4 413.2,182.6 413.9,182.0 414.6,181.1 415.3,181.3 415.9,182.4 416.6,182.7 417.3,183.4 418.0,183.7 418.7,184.7 419.3,184.9 420.0,185.3 420.7,185.5 421.4,186.0 422.1,186.6 422.7,186.6 423.4,185.6 424.1,186.4 424.8,186.3 425.5,186.5 426.1,186.6 426.8,186.4 427.5,187.1 428.2,187.0 428.9,187.3 429.5,187.6 430.2,188.4 430.9,188.5 431.6,188.3 432.3,189.1 432.9,189.3 433.6,189.4 434.3,189.9 435.0,189.8 435.7,189.5 436.3,189.7 437.0,189.6 437.7,188.6 438.4,188.7 439.1,189.2 439.7,189.8 440.4,189.1 441.1,189.3 441.8,190.1 442.5,189.8 443.1,189.9 443.8,190.8 444.5,190.4 445.2,191.3 445.9,193.7 446.5,193.2 447.2,193.7 447.9,193.8 448.6,193.7 449.3,193.0 449.9,192.6 450.6,192.2 451.3,191.0 452.0,191.0 452.7,192.8 453.3,193.1 454.0,193.5 454.7,194.1 455.4,194.0 456.1,193.6 456.7,193.9 457.4,194.2 458.1,194.5 458.8,195.2 459.5,195.1 460.1,196.0 460.8,196.5 461.5,196.0 462.2,195.6 462.9,194.8 463.5,195.1 464.2,195.4 464.9,194.6 465.6,195.7 466.3,195.3 466.9,195.7 467.6,195.8 468.3,196.6 469.0,195.8 469.7,195.9 470.4,195.9 471.0,195.1 471.7,195.7 472.4,196.3 473.1,196.6 473.8,198.5 474.4,197.5 475.1,198.1 475.8,197.9 476.5,197.1 477.2,197.6 477.8,198.8 478.5,198.4 479.2,198.8 479.9,198.9 480.6,199.0 481.2,199.1 481.9,199.2 482.6,198.3 483.3,197.6 484.0,197.4 484.6,197.8 485.3,198.6 486.0,199.0 486.7,199.7 487.4,199.0 488.0,198.0 488.7,197.3 489.4,197.5 490.1,197.0 490.8,197.7 491.4,198.1 492.1,199.1 492.8,199.0 493.5,200.1 494.2,199.5 494.8,198.4 495.5,197.7 496.2,198.1"/>
<polyline fill="none" stroke="#1a1a1a" stroke-width="1.3" stroke-linejoin="round" points="341.1,200.3 341.8,198.7 342.5,197.1 343.1,195.6 343.8,194.1 344.5,192.7 345.2,191.5 345.9,190.5 346.5,189.4 347.2,188.5 347.9,187.5 348.6,186.6 349.3,185.8 349.9,185.1 350.6,184.5 351.3,183.7 352.0,183.2 352.7,182.7 353.3,182.2 354.0,181.9 354.7,180.7 355.4,179.8 356.1,179.1 356.7,178.4 357.4,177.2 358.1,176.7 358.8,176.1 359.5,175.5 360.2,175.1 360.8,174.6 361.5,174.1 362.2,173.8 362.9,173.6 363.6,173.3 364.2,172.9 364.9,172.7 365.6,172.5 366.3,172.1 367.0,171.9 367.6,171.3 368.3,171.3 369.0,171.1 369.7,171.2 370.4,171.1 371.0,171.3 371.7,171.1 372.4,171.2 373.1,171.4 373.8,170.8 374.4,170.5 375.1,170.7 375.8,170.5 376.5,170.6 377.2,171.0 377.8,170.8 378.5,171.3 379.2,171.3 379.9,171.6 380.6,172.2 381.2,171.7 381.9,172.5 382.6,172.9 383.3,172.7 384.0,173.4 384.6,174.2 385.3,174.8 386.0,175.2 386.7,175.3 387.4,175.0 388.0,175.6 388.7,175.0 389.4,175.5 390.1,175.0 390.8,175.5 391.4,175.4 392.1,175.7 392.8,176.0 393.5,176.3 394.2,176.7 394.8,176.8 395.5,176.1 396.2,177.0 396.9,176.7 397.6,177.0 398.2,177.6 398.9,177.7 399.6,178.3 400.3,178.7 401.0,178.8 401.6,178.9 402.3,178.9 403.0,177.8 403.7,178.5 404.4,179.0 405.0,179.2 405.7,181.3 406.4,180.4 407.1,180.5 407.8,180.7 408.4,181.0 409.1,181.0 409.8,180.4 410.5,180.1 411.2,180.4 411.8,180.5 412.5,180.7 413.2,181.6 413.9,182.8 414.6,183.0 415.3,184.2 415.9,185.3 416.6,184.4 417.3,184.2 418.0,183.8 418.7,183.5 419.3,183.6 420.0,183.8 420.7,184.3 421.4,185.2 422.1,185.0 422.7,185.3 423.4,186.3 424.1,186.9 424.8,187.4 425.5,187.8 426.1,188.8 426.8,188.2 427.5,188.2 428.2,188.3 428.9,187.8 429.5,188.2 430.2,188.2 430.9,187.9 431.6,187.6 432.3,188.1 432.9,188.0 433.6,186.7 434.3,187.2 435.0,186.9 435.7,187.2 436.3,187.3 437.0,187.7 437.7,188.2 438.4,187.3 439.1,187.6 439.7,187.8 440.4,187.2 441.1,187.8 441.8,187.5 442.5,189.1 443.1,190.6 443.8,191.1 444.5,191.5 445.2,191.8 445.9,192.0 446.5,191.9 447.2,191.8 447.9,192.1 448.6,192.3 449.3,192.2 449.9,192.0 450.6,192.3 451.3,191.3 452.0,191.0 452.7,191.7 453.3,191.1 454.0,191.6 454.7,191.6 455.4,191.5 456.1,192.1 456.7,193.1 457.4,192.8 458.1,193.2 458.8,192.8 459.5,193.8 460.1,194.3 460.8,194.4 461.5,194.9 462.2,195.6 462.9,194.6 463.5,194.0 464.2,193.4 464.9,193.0 465.6,193.5 466.3,194.5 466.9,195.0 467.6,197.0 468.3,196.8 469.0,196.4 469.7,195.2 470.4,195.7 471.0,195.1 471.7,196.8 472.4,196.1 473.1,194.7 473.8,195.7 474.4,194.9 475.1,195.6 475.8,196.4 476.5,196.3 477.2,197.0 477.8,197.6 478.5,196.4 479.2,197.1 479.9,196.4 480.6,195.3 481.2,194.8 481.9,195.7 482.6,195.7 483.3,196.3 484.0,197.4 484.6,196.9 485.3,197.6 486.0,197.9 486.7,198.2 487.4,198.1 488.0,199.1 488.7,198.3 489.4,198.7 490.1,198.9 490.8,198.6 491.4,198.4 492.1,198.3 492.8,198.6 493.5,198.0 494.2,198.1 494.8,198.7 495.5,198.4 496.2,198.5"/>
<text x="0.5" y="256.9" font-size="17.4" font-weight="bold" fill="#000" stroke="#000" stroke-width="0.35">C</text>
<line x1="39.5" y1="445" x2="39.5" y2="264.8" stroke="#222" stroke-width="1.0"/>
<line x1="39" y1="444.5" x2="221.3" y2="444.5" stroke="#222" stroke-width="1.0"/>
<line x1="36.8" y1="444.4" x2="39.3" y2="444.4" stroke="#2a2a2a" stroke-width="1"/>
<text x="35.9" y="448.3" font-size="10.5" text-anchor="end" fill="#1a1a1a" stroke="#1a1a1a" stroke-width="0.3" >0</text>
<line x1="36.8" y1="414.55" x2="39.3" y2="414.55" stroke="#2a2a2a" stroke-width="1"/>
<text x="35.9" y="418.45" font-size="10.5" text-anchor="end" fill="#1a1a1a" stroke="#1a1a1a" stroke-width="0.3" >50</text>
<line x1="36.8" y1="384.7" x2="39.3" y2="384.7" stroke="#2a2a2a" stroke-width="1"/>
<text x="35.9" y="388.6" font-size="10.5" text-anchor="end" fill="#1a1a1a" stroke="#1a1a1a" stroke-width="0.3" >100</text>
<line x1="36.8" y1="354.85" x2="39.3" y2="354.85" stroke="#2a2a2a" stroke-width="1"/>
<text x="35.9" y="358.75" font-size="10.5" text-anchor="end" fill="#1a1a1a" stroke="#1a1a1a" stroke-width="0.3" >150</text>
<line x1="36.8" y1="325" x2="39.3" y2="325" stroke="#2a2a2a" stroke-width="1"/>
<text x="35.9" y="328.9" font-size="10.5" text-anchor="end" fill="#1a1a1a" stroke="#1a1a1a" stroke-width="0.3" >200</text>
<line x1="36.8" y1="295.15" x2="39.3" y2="295.15" stroke="#2a2a2a" stroke-width="1"/>
<text x="35.9" y="299.05" font-size="10.5" text-anchor="end" fill="#1a1a1a" stroke="#1a1a1a" stroke-width="0.3" >250</text>
<line x1="36.8" y1="265.3" x2="39.3" y2="265.3" stroke="#2a2a2a" stroke-width="1"/>
<text x="35.9" y="269.2" font-size="10.5" text-anchor="end" fill="#1a1a1a" stroke="#1a1a1a" stroke-width="0.3" >300</text>
<line x1="39.3" y1="444.4" x2="39.3" y2="446.9" stroke="#2a2a2a" stroke-width="1"/>
<text x="39.3" y="457.8" font-size="10.5" text-anchor="middle" fill="#1a1a1a" stroke="#1a1a1a" stroke-width="0.3" >0</text>
<line x1="84.65" y1="444.4" x2="84.65" y2="446.9" stroke="#2a2a2a" stroke-width="1"/>
<text x="84.65" y="457.8" font-size="10.5" text-anchor="middle" fill="#1a1a1a" stroke="#1a1a1a" stroke-width="0.3" >10</text>
<line x1="130" y1="444.4" x2="130" y2="446.9" stroke="#2a2a2a" stroke-width="1"/>
<text x="130" y="457.8" font-size="10.5" text-anchor="middle" fill="#1a1a1a" stroke="#1a1a1a" stroke-width="0.3" >20</text>
<line x1="175.35" y1="444.4" x2="175.35" y2="446.9" stroke="#2a2a2a" stroke-width="1"/>
<text x="175.35" y="457.8" font-size="10.5" text-anchor="middle" fill="#1a1a1a" stroke="#1a1a1a" stroke-width="0.3" >30</text>
<line x1="220.7" y1="444.4" x2="220.7" y2="446.9" stroke="#2a2a2a" stroke-width="1"/>
<text x="220.7" y="457.8" font-size="10.5" text-anchor="middle" fill="#1a1a1a" stroke="#1a1a1a" stroke-width="0.3" >40</text>
<text x="129.7" y="474.2" font-size="12.4" text-anchor="middle" fill="#1a1a1a" stroke="#1a1a1a" stroke-width="0.3" >Time (minutes)</text>
<text x="10.4" y="353.6" font-size="12.2" text-anchor="middle" fill="#1a1a1a" stroke="#1a1a1a" stroke-width="0.3" transform="rotate(-90 10.4 353.6)">nM Thrombin</text>
<line x1="83.1" y1="279.3" x2="98.1" y2="279.3" stroke="#1a1a1a" stroke-width="1.4"/>
<text x="98.39" y="283.5" font-size="12.3" text-anchor="start" fill="#1a1a1a" stroke="#1a1a1a" stroke-width="0.3" >no TFPI or PS</text>
<text x="81.97" y="374.2" font-size="10.5" letter-spacing="0.25" fill="#1a1a1a" stroke="#1a1a1a" stroke-width="0.24">TFPI 1nM +</text>
<text x="144.97" y="374.2" font-size="10.9" text-anchor="start" font-weight="bold" fill="#000" >chimera II</text>
<text x="201.33" y="374.5" font-size="11.1" fill="#333" stroke="#333" stroke-width="0.21">(nM)</text>
<line x1="82" y1="374.8" x2="197.7" y2="374.8" stroke="#aaa" stroke-width="1.0"/>
<line x1="202.5" y1="385.2" x2="216.3" y2="385.2" stroke="#1a1a1a" stroke-width="1.4"/>
<text x="217.99" y="389.8" font-size="12.3" text-anchor="start" fill="#1a1a1a" stroke="#1a1a1a" stroke-width="0.3" >0</text>
<line x1="202.5" y1="396.3" x2="216.3" y2="396.3" stroke="#1a1a1a" stroke-width="1.4"/>
<text x="217.99" y="400.9" font-size="12.3" text-anchor="start" fill="#1a1a1a" stroke="#1a1a1a" stroke-width="0.3" >12.5</text>
<line x1="202.5" y1="407.9" x2="216.3" y2="407.9" stroke="#1a1a1a" stroke-width="1.4"/>
<text x="217.99" y="412.5" font-size="12.3" text-anchor="start" fill="#1a1a1a" stroke="#1a1a1a" stroke-width="0.3" >25</text>
<line x1="202.5" y1="419.4" x2="216.3" y2="419.4" stroke="#1a1a1a" stroke-width="1.4"/>
<text x="217.99" y="424" font-size="12.3" text-anchor="start" fill="#1a1a1a" stroke="#1a1a1a" stroke-width="0.3" >50</text>
<line x1="202.5" y1="431" x2="216.3" y2="431" stroke="#1a1a1a" stroke-width="1.4"/>
<text x="217.99" y="435.6" font-size="12.3" text-anchor="start" fill="#1a1a1a" stroke="#1a1a1a" stroke-width="0.3" >100</text>
<polyline fill="none" stroke="#1a1a1a" stroke-width="1.3" stroke-linejoin="round" points="39.3,444.4 40.0,444.4 40.7,444.4 41.3,444.4 42.0,444.4 42.7,444.4 43.4,444.4 44.1,444.4 44.7,444.4 45.4,444.4 46.1,444.4 46.8,444.4 47.5,444.4 48.1,444.4 48.8,444.4 49.5,444.4 50.2,444.4 50.9,444.4 51.5,444.4 52.2,444.4 52.9,444.4 53.6,444.0 54.3,438.2 54.9,427.3 55.6,413.4 56.3,398.6 57.0,385.0 57.7,372.1 58.3,357.9 59.0,343.2 59.7,329.0 60.4,316.0 61.1,305.3 61.7,296.0 62.4,287.0 63.1,280.7 63.8,279.1 64.5,280.7 65.1,283.7 65.8,287.6 66.5,292.2 67.2,299.1 67.9,306.7 68.6,313.5 69.2,320.4 69.9,327.4 70.6,334.5 71.3,341.5 72.0,348.4 72.6,355.0 73.3,361.2 74.0,366.9 74.7,372.0 75.4,376.5 76.0,380.5 76.7,384.2 77.4,387.4 78.1,390.4 78.8,393.2 79.4,395.7 80.1,398.0 80.8,400.3 81.5,402.6 82.2,404.8 82.8,407.2 83.5,409.7 84.2,412.2 84.9,414.7 85.6,417.0 86.2,419.2 86.9,421.1 87.6,422.9 88.3,424.7 89.0,426.4 89.6,427.9 90.3,429.3 91.0,430.5 91.7,431.3 92.4,431.8 93.0,432.2 93.7,432.5 94.4,432.9 95.1,433.3 95.8,434.0 96.4,436.4 97.1,439.5 97.8,441.7 98.5,442.0 99.2,442.1 99.8,442.2 100.5,442.3 101.2,442.4 101.9,442.6 102.6,442.9 103.2,443.3 103.9,443.7 104.6,444.1"/>
<polyline fill="none" stroke="#1a1a1a" stroke-width="1.3" stroke-linejoin="round" points="63.3,444.4 64.0,444.0 64.7,443.5 65.4,442.8 66.1,442.1 66.7,441.2 67.4,440.3 68.1,439.1 68.8,437.9 69.5,436.5 70.1,435.2 70.8,433.8 71.5,432.4 72.2,431.1 72.9,429.6 73.5,428.3 74.2,426.6 74.9,424.4 75.6,423.0 76.3,421.0 76.9,419.1 77.6,417.0 78.3,415.1 79.0,413.0 79.7,411.1 80.3,409.5 81.0,408.3 81.7,407.7 82.4,406.6 83.1,405.9 83.7,405.1 84.4,404.6 85.1,404.2 85.8,403.6 86.5,403.4 87.1,402.7 87.8,402.6 88.5,402.4 89.2,402.2 89.9,401.9 90.5,401.4 91.2,400.6 91.9,400.0 92.6,399.8 93.3,399.6 93.9,399.4 94.6,399.4 95.3,399.3 96.0,399.6 96.7,400.3 97.3,400.6 98.0,400.9 98.7,401.0 99.4,402.1 100.1,402.3 100.7,402.7 101.4,402.7 102.1,403.5 102.8,403.8 103.5,404.6 104.2,404.7 104.8,405.3 105.5,405.5 106.2,406.1 106.9,406.2 107.6,406.3 108.2,408.3 108.9,409.0 109.6,409.2 110.3,410.2 111.0,410.9 111.6,410.7 112.3,410.3 113.0,411.2 113.7,411.5 114.4,412.3 115.0,412.3 115.7,413.6 116.4,412.9 117.1,414.4 117.8,415.0 118.4,415.9 119.1,416.1 119.8,416.0 120.5,417.7 121.2,417.3 121.8,419.1 122.5,420.0 123.2,419.9 123.9,420.1 124.6,418.9 125.2,419.8 125.9,419.4 126.6,419.9 127.3,420.9 128.0,420.5 128.6,421.6 129.3,423.0 130.0,422.5 130.7,421.9 131.4,421.9 132.0,422.5 132.7,422.3 133.4,422.6 134.1,423.9 134.8,423.3 135.4,423.8 136.1,423.4 136.8,423.9 137.5,423.7 138.2,423.8 138.8,424.1 139.5,424.6 140.2,424.6 140.9,425.5 141.6,425.7 142.2,424.9 142.9,425.3 143.6,425.8 144.3,426.2 145.0,425.8 145.6,426.1 146.3,426.2 147.0,426.9 147.7,426.7 148.4,426.8 149.0,426.9 149.7,427.1 150.4,426.9 151.1,427.4 151.8,426.7 152.4,426.9 153.1,426.9 153.8,427.3 154.5,427.2 155.2,427.5 155.8,428.8 156.5,428.9 157.2,429.6 157.9,429.1 158.6,429.6 159.3,428.9 159.9,429.2 160.6,429.8 161.3,431.5 162.0,432.9 162.7,432.6 163.3,432.3 164.0,431.7 164.7,430.8 165.4,431.6 166.1,430.4 166.7,431.1 167.4,431.6 168.1,431.9 168.8,431.8 169.5,431.2 170.1,431.6 170.8,432.3 171.5,432.2 172.2,431.6 172.9,433.4 173.5,433.4 174.2,433.2 174.9,432.6 175.6,432.1 176.3,432.8 176.9,432.6 177.6,432.7 178.3,433.6 179.0,433.9 179.7,434.4 180.3,435.0 181.0,434.7 181.7,435.8 182.4,435.2 183.1,434.5 183.7,434.0 184.4,433.7 185.1,433.9 185.8,433.6 186.5,433.3 187.1,434.5 187.8,434.9 188.5,435.6 189.2,436.8 189.9,436.6 190.5,436.2 191.2,435.3 191.9,436.3 192.6,435.0 193.3,436.2 193.9,436.3 194.6,436.5 195.3,437.5 196.0,436.5 196.7,435.6 197.3,435.6 198.0,434.7 198.7,434.5 199.4,434.6 200.1,435.5 200.7,435.2 201.4,435.7 202.1,435.6 202.8,435.6 203.5,434.9 204.1,436.6 204.8,437.0 205.5,438.1 206.2,436.4 206.9,438.3 207.5,436.7 208.2,436.9 208.9,435.2 209.6,436.2 210.3,437.2 210.9,437.2 211.6,438.5 212.3,437.5 213.0,438.1 213.7,436.8 214.4,437.5 215.0,437.0 215.7,437.6 216.4,437.9 217.1,436.9 217.8,437.6 218.4,437.5 219.1,437.3 219.8,437.8 220.5,438.1"/>
<polyline fill="none" stroke="#1a1a1a" stroke-width="1.3" stroke-linejoin="round" points="64.2,444.4 64.9,444.2 65.6,443.8 66.3,443.4 67.0,442.8 67.6,442.1 68.3,441.2 69.0,440.2 69.7,439.0 70.4,437.7 71.0,436.4 71.7,435.1 72.4,433.6 73.1,432.4 73.8,431.0 74.4,429.9 75.1,428.8 75.8,427.6 76.5,426.4 77.2,424.6 77.8,423.2 78.5,421.7 79.2,420.1 79.9,418.6 80.6,417.6 81.2,416.7 81.9,416.0 82.6,415.5 83.3,415.3 84.0,415.2 84.7,414.9 85.3,414.8 86.0,414.1 86.7,413.3 87.4,412.7 88.1,412.5 88.7,412.2 89.4,412.1 90.1,411.8 90.8,411.7 91.5,411.7 92.1,411.6 92.8,411.6 93.5,411.5 94.2,411.2 94.9,411.7 95.5,411.4 96.2,411.1 96.9,410.6 97.6,410.4 98.3,410.0 98.9,410.7 99.6,410.7 100.3,411.0 101.0,411.6 101.7,412.3 102.3,412.8 103.0,413.6 103.7,414.0 104.4,413.5 105.1,412.7 105.7,413.0 106.4,413.5 107.1,413.7 107.8,414.8 108.5,413.7 109.1,413.6 109.8,413.7 110.5,413.8 111.2,413.5 111.9,413.7 112.5,413.9 113.2,414.8 113.9,415.2 114.6,416.0 115.3,416.0 115.9,416.2 116.6,415.6 117.3,415.4 118.0,414.9 118.7,414.6 119.3,416.8 120.0,417.8 120.7,419.6 121.4,419.8 122.1,419.3 122.7,418.6 123.4,419.1 124.1,418.6 124.8,419.6 125.5,419.7 126.1,419.4 126.8,419.8 127.5,421.1 128.2,422.0 128.9,422.3 129.5,422.4 130.2,422.1 130.9,422.4 131.6,422.0 132.3,421.7 132.9,421.4 133.6,422.4 134.3,423.0 135.0,423.2 135.7,423.3 136.3,422.9 137.0,423.1 137.7,423.2 138.4,422.9 139.1,423.3 139.8,424.4 140.4,424.5 141.1,425.2 141.8,425.6 142.5,426.6 143.2,425.8 143.8,428.0 144.5,427.1 145.2,428.0 145.9,427.6 146.6,426.9 147.2,426.9 147.9,426.6 148.6,426.3 149.3,426.3 150.0,426.4 150.6,425.8 151.3,427.0 152.0,427.5 152.7,426.9 153.4,428.0 154.0,428.0 154.7,429.0 155.4,429.3 156.1,429.5 156.8,429.2 157.4,428.9 158.1,429.2 158.8,430.1 159.5,429.5 160.2,430.6 160.8,431.4 161.5,431.8 162.2,431.6 162.9,431.3 163.6,431.1 164.2,430.9 164.9,430.2 165.6,429.8 166.3,429.8 167.0,430.0 167.6,430.0 168.3,430.9 169.0,431.5 169.7,431.7 170.4,433.6 171.0,434.6 171.7,435.2 172.4,434.3 173.1,434.8 173.8,434.0 174.4,435.0 175.1,434.7 175.8,434.3 176.5,434.7 177.2,435.0 177.8,435.8 178.5,435.3 179.2,435.0 179.9,435.3 180.6,435.6 181.2,435.5 181.9,435.5 182.6,435.5 183.3,435.7 184.0,435.9 184.6,435.5 185.3,436.1 186.0,435.6 186.7,437.0 187.4,436.9 188.0,435.7 188.7,436.3 189.4,436.4 190.1,435.6 190.8,436.0 191.4,436.3 192.1,437.5 192.8,437.0 193.5,437.0 194.2,437.5 194.9,437.0 195.5,436.4 196.2,436.9 196.9,436.6 197.6,437.1 198.3,436.5 198.9,436.1 199.6,437.0 200.3,437.5 201.0,437.1 201.7,437.0 202.3,437.8 203.0,438.5 203.7,438.1 204.4,437.6 205.1,437.7 205.7,439.6 206.4,440.1 207.1,440.3 207.8,441.2 208.5,440.0 209.1,440.0 209.8,439.1 210.5,439.7 211.2,440.0 211.9,439.9 212.5,440.4 213.2,441.9 213.9,440.2 214.6,441.0 215.3,440.9 215.9,441.4 216.6,441.0 217.3,440.4 218.0,439.8 218.7,439.9 219.3,440.4 220.0,439.7 220.7,440.9"/>
<polyline fill="none" stroke="#1a1a1a" stroke-width="1.3" stroke-linejoin="round" points="65.1,444.4 65.8,444.1 66.5,443.8 67.2,443.4 67.9,442.8 68.6,442.2 69.2,441.4 69.9,440.4 70.6,439.4 71.3,438.4 72.0,437.2 72.6,436.1 73.3,434.8 74.0,433.7 74.7,432.8 75.4,432.0 76.0,431.2 76.7,430.2 77.4,429.5 78.1,428.2 78.8,427.0 79.4,425.8 80.1,424.7 80.8,423.7 81.5,422.8 82.2,422.2 82.8,421.3 83.5,420.6 84.2,420.5 84.9,419.7 85.6,418.7 86.2,417.8 86.9,417.5 87.6,417.1 88.3,416.4 89.0,416.2 89.6,416.0 90.3,415.5 91.0,415.4 91.7,415.3 92.4,415.1 93.0,415.4 93.7,415.0 94.4,415.2 95.1,415.4 95.8,415.7 96.4,415.3 97.1,414.8 97.8,414.9 98.5,415.0 99.2,414.9 99.8,415.2 100.5,415.9 101.2,416.4 101.9,416.5 102.6,416.9 103.2,417.4 103.9,417.4 104.6,417.7 105.3,418.2 106.0,418.5 106.6,418.6 107.3,418.8 108.0,419.2 108.7,419.1 109.4,419.6 110.0,420.3 110.7,419.9 111.4,420.4 112.1,420.1 112.8,420.8 113.4,420.7 114.1,420.5 114.8,421.3 115.5,421.1 116.2,421.6 116.8,421.8 117.5,423.1 118.2,422.1 118.9,420.8 119.6,420.8 120.2,419.0 120.9,419.7 121.6,419.1 122.3,420.0 123.0,420.8 123.7,421.6 124.3,421.4 125.0,421.6 125.7,422.0 126.4,422.3 127.1,421.8 127.7,422.2 128.4,423.2 129.1,424.5 129.8,424.4 130.5,424.6 131.1,424.2 131.8,424.2 132.5,424.4 133.2,423.8 133.9,423.4 134.5,424.8 135.2,425.4 135.9,425.2 136.6,425.8 137.3,427.2 137.9,427.7 138.6,428.3 139.3,429.0 140.0,428.1 140.7,427.7 141.3,427.5 142.0,427.2 142.7,427.2 143.4,428.5 144.1,428.5 144.7,428.0 145.4,428.4 146.1,427.9 146.8,427.9 147.5,428.5 148.1,428.6 148.8,428.7 149.5,430.1 150.2,430.2 150.9,430.7 151.5,430.0 152.2,430.0 152.9,429.9 153.6,429.6 154.3,428.7 154.9,429.3 155.6,428.4 156.3,428.9 157.0,428.9 157.7,430.5 158.3,430.1 159.0,430.7 159.7,430.8 160.4,431.8 161.1,432.2 161.7,431.2 162.4,431.5 163.1,431.6 163.8,432.0 164.5,433.4 165.1,433.7 165.8,433.0 166.5,433.8 167.2,433.6 167.9,432.8 168.5,433.5 169.2,433.3 169.9,433.8 170.6,433.5 171.3,433.5 171.9,434.0 172.6,434.7 173.3,436.4 174.0,436.1 174.7,436.1 175.4,435.7 176.0,436.0 176.7,435.0 177.4,434.2 178.1,435.6 178.8,436.4 179.4,437.7 180.1,437.1 180.8,437.2 181.5,437.0 182.2,436.2 182.8,436.5 183.5,436.8 184.2,436.0 184.9,436.0 185.6,436.3 186.2,436.5 186.9,437.4 187.6,437.4 188.3,437.5 189.0,437.1 189.6,436.6 190.3,435.8 191.0,435.1 191.7,435.9 192.4,435.5 193.0,436.3 193.7,437.1 194.4,436.7 195.1,437.3 195.8,437.8 196.4,438.1 197.1,439.0 197.8,438.6 198.5,439.4 199.2,440.2 199.8,440.2 200.5,438.8 201.2,438.6 201.9,438.6 202.6,439.0 203.2,438.5 203.9,439.1 204.6,439.6 205.3,440.4 206.0,440.9 206.6,440.3 207.3,440.1 208.0,439.8 208.7,439.5 209.4,438.8 210.0,438.9 210.7,438.9 211.4,438.8 212.1,440.0 212.8,440.3 213.4,441.0 214.1,440.9 214.8,441.4 215.5,442.4 216.2,441.6 216.8,441.7 217.5,441.9 218.2,441.6 218.9,440.5 219.6,440.3 220.2,440.9"/>
<polyline fill="none" stroke="#1a1a1a" stroke-width="1.3" stroke-linejoin="round" points="66.5,444.4 67.2,444.2 67.9,443.9 68.6,443.6 69.2,443.2 69.9,442.8 70.6,442.2 71.3,441.7 72.0,441.0 72.6,440.3 73.3,439.6 74.0,438.9 74.7,438.1 75.4,437.2 76.0,436.5 76.7,436.0 77.4,434.9 78.1,434.4 78.8,433.2 79.4,431.9 80.1,430.9 80.8,430.6 81.5,429.8 82.2,429.2 82.8,428.4 83.5,427.8 84.2,427.2 84.9,426.8 85.6,426.2 86.2,425.9 86.9,425.2 87.6,424.7 88.3,424.3 89.0,423.5 89.6,423.3 90.3,423.2 91.0,422.6 91.7,422.6 92.4,422.1 93.0,422.1 93.7,422.1 94.4,422.0 95.1,422.0 95.8,421.7 96.4,421.8 97.1,421.3 97.8,421.4 98.5,421.4 99.2,421.3 99.8,421.7 100.5,421.8 101.2,421.1 101.9,422.0 102.6,421.9 103.2,421.4 103.9,421.2 104.6,421.2 105.3,421.3 106.0,421.3 106.6,422.1 107.3,423.0 108.0,423.0 108.7,422.4 109.4,422.1 110.0,422.2 110.7,422.0 111.4,421.9 112.1,423.3 112.8,422.3 113.4,423.8 114.1,423.9 114.8,423.8 115.5,423.9 116.2,423.2 116.8,422.7 117.5,423.7 118.2,424.5 118.9,425.6 119.6,426.4 120.2,427.4 120.9,427.0 121.6,426.6 122.3,426.0 123.0,425.3 123.7,426.0 124.3,425.1 125.0,425.3 125.7,425.3 126.4,425.8 127.1,425.5 127.7,424.7 128.4,425.4 129.1,424.9 129.8,426.3 130.5,426.9 131.1,426.6 131.8,427.6 132.5,427.5 133.2,427.7 133.9,428.2 134.5,427.8 135.2,427.7 135.9,426.5 136.6,426.3 137.3,426.6 137.9,426.4 138.6,427.1 139.3,427.7 140.0,428.7 140.7,429.7 141.3,430.3 142.0,430.6 142.7,430.2 143.4,429.7 144.1,429.4 144.7,429.0 145.4,429.4 146.1,429.0 146.8,429.2 147.5,428.9 148.1,429.8 148.8,430.0 149.5,429.9 150.2,430.2 150.9,430.9 151.5,431.4 152.2,431.7 152.9,432.5 153.6,433.7 154.3,433.3 154.9,432.1 155.6,432.7 156.3,432.2 157.0,432.0 157.7,432.2 158.3,432.3 159.0,432.1 159.7,432.7 160.4,433.1 161.1,433.2 161.7,433.3 162.4,434.4 163.1,433.0 163.8,434.0 164.5,433.2 165.1,432.6 165.8,432.9 166.5,432.9 167.2,433.3 167.9,434.2 168.5,433.7 169.2,433.6 169.9,435.3 170.6,435.2 171.3,434.8 171.9,434.2 172.6,434.2 173.3,434.7 174.0,436.3 174.7,436.4 175.4,437.4 176.0,437.1 176.7,436.1 177.4,435.3 178.1,434.9 178.8,435.1 179.4,436.4 180.1,437.6 180.8,438.5 181.5,438.5 182.2,437.7 182.8,436.9 183.5,436.9 184.2,436.2 184.9,438.4 185.6,438.4 186.2,438.8 186.9,439.3 187.6,438.3 188.3,438.1 189.0,438.0 189.6,437.7 190.3,437.4 191.0,437.2 191.7,437.9 192.4,438.0 193.0,438.7 193.7,439.7 194.4,440.5 195.1,440.1 195.8,440.0 196.4,440.3 197.1,439.0 197.8,438.5 198.5,438.9 199.2,440.3 199.8,440.7 200.5,441.5 201.2,441.0 201.9,441.0 202.6,440.9 203.2,440.9 203.9,440.0 204.6,440.3 205.3,440.2 206.0,440.2 206.6,439.7 207.3,440.5 208.0,440.2 208.7,440.8 209.4,440.0 210.0,440.3 210.7,441.0 211.4,439.9 212.1,440.9 212.8,440.9 213.4,440.2 214.1,440.0 214.8,439.7 215.5,439.3 216.2,438.8 216.8,438.5 217.5,439.4 218.2,440.3 218.9,440.2 219.6,441.1 220.2,440.7"/>
<polyline fill="none" stroke="#1a1a1a" stroke-width="1.3" stroke-linejoin="round" points="68.8,444.4 69.5,443.8 70.1,443.2 70.8,442.7 71.5,442.1 72.2,441.6 72.9,441.1 73.5,440.7 74.2,440.2 74.9,439.8 75.6,439.5 76.3,439.2 76.9,438.7 77.6,438.4 78.3,438.0 79.0,437.7 79.7,437.2 80.3,437.2 81.0,436.7 81.7,436.5 82.4,436.1 83.1,435.9 83.7,435.3 84.4,435.0 85.1,434.7 85.8,434.3 86.5,433.5 87.1,433.1 87.8,432.6 88.5,432.1 89.2,431.6 89.9,431.2 90.5,430.7 91.2,430.2 91.9,429.6 92.6,429.0 93.3,428.3 93.9,428.2 94.6,428.0 95.3,427.8 96.0,427.4 96.7,427.3 97.3,427.3 98.0,427.4 98.7,427.4 99.4,427.4 100.1,427.6 100.7,427.2 101.4,427.1 102.1,427.0 102.8,426.9 103.5,426.2 104.2,426.5 104.8,426.4 105.5,426.7 106.2,426.6 106.9,426.9 107.6,426.8 108.2,427.3 108.9,427.9 109.6,427.9 110.3,428.0 111.0,429.1 111.6,428.5 112.3,428.7 113.0,428.3 113.7,428.9 114.4,429.9 115.0,428.7 115.7,428.7 116.4,429.3 117.1,429.2 117.8,429.8 118.4,430.3 119.1,430.8 119.8,431.0 120.5,430.1 121.2,429.6 121.8,429.7 122.5,429.0 123.2,428.7 123.9,429.7 124.6,430.0 125.2,430.2 125.9,430.0 126.6,430.5 127.3,430.5 128.0,430.2 128.6,429.7 129.3,430.2 130.0,429.7 130.7,429.7 131.4,431.2 132.0,431.7 132.7,431.5 133.4,431.3 134.1,429.9 134.8,429.8 135.4,429.2 136.1,429.1 136.8,429.1 137.5,429.6 138.2,429.3 138.8,429.3 139.5,430.7 140.2,431.2 140.9,433.1 141.6,433.9 142.2,433.0 142.9,432.9 143.6,431.9 144.3,432.6 145.0,432.6 145.6,431.8 146.3,431.9 147.0,431.1 147.7,432.0 148.4,432.1 149.0,432.7 149.7,434.1 150.4,434.1 151.1,433.4 151.8,433.6 152.4,434.2 153.1,433.6 153.8,433.7 154.5,433.3 155.2,433.1 155.8,433.8 156.5,432.8 157.2,432.5 157.9,432.5 158.6,432.9 159.3,433.2 159.9,433.8 160.6,435.1 161.3,434.2 162.0,434.5 162.7,435.0 163.3,434.5 164.0,435.6 164.7,435.5 165.4,436.0 166.1,434.4 166.7,435.1 167.4,434.2 168.1,435.2 168.8,435.6 169.5,435.8 170.1,437.1 170.8,436.9 171.5,437.4 172.2,435.9 172.9,436.0 173.5,437.0 174.2,436.6 174.9,437.3 175.6,437.2 176.3,438.1 176.9,437.8 177.6,438.4 178.3,437.9 179.0,437.6 179.7,438.3 180.3,438.0 181.0,438.3 181.7,438.8 182.4,439.0 183.1,440.4 183.7,440.3 184.4,438.3 185.1,437.8 185.8,437.1 186.5,436.7 187.1,438.0 187.8,438.1 188.5,438.7 189.2,438.6 189.9,438.6 190.5,437.3 191.2,437.2 191.9,437.5 192.6,438.6 193.3,438.5 193.9,439.9 194.6,440.4 195.3,440.5 196.0,440.4 196.7,440.7 197.3,440.2 198.0,440.9 198.7,440.0 199.4,440.5 200.1,440.6 200.7,440.8 201.4,441.0 202.1,441.3 202.8,441.8 203.5,441.5 204.1,441.9 204.8,441.4 205.5,441.9 206.2,442.3 206.9,441.3 207.5,442.8 208.2,442.2 208.9,442.3 209.6,441.5 210.3,441.3 210.9,441.7 211.6,442.1 212.3,441.3 213.0,442.3 213.7,442.0 214.4,442.4 215.0,441.6 215.7,441.7 216.4,441.3 217.1,442.1 217.8,441.8 218.4,441.7 219.1,442.0 219.8,442.9 220.5,442.1"/>
<text x="275.1" y="256.9" font-size="17.4" font-weight="bold" fill="#000" stroke="#000" stroke-width="0.35">D</text>
<line x1="314.5" y1="445" x2="314.5" y2="264.8" stroke="#222" stroke-width="1.0"/>
<line x1="314" y1="444.5" x2="496.6" y2="444.5" stroke="#222" stroke-width="1.0"/>
<line x1="312.1" y1="444.4" x2="314.6" y2="444.4" stroke="#2a2a2a" stroke-width="1"/>
<text x="311.2" y="448.3" font-size="10.5" text-anchor="end" fill="#1a1a1a" stroke="#1a1a1a" stroke-width="0.3" >0</text>
<line x1="312.1" y1="414.55" x2="314.6" y2="414.55" stroke="#2a2a2a" stroke-width="1"/>
<text x="311.2" y="418.45" font-size="10.5" text-anchor="end" fill="#1a1a1a" stroke="#1a1a1a" stroke-width="0.3" >50</text>
<line x1="312.1" y1="384.7" x2="314.6" y2="384.7" stroke="#2a2a2a" stroke-width="1"/>
<text x="311.2" y="388.6" font-size="10.5" text-anchor="end" fill="#1a1a1a" stroke="#1a1a1a" stroke-width="0.3" >100</text>
<line x1="312.1" y1="354.85" x2="314.6" y2="354.85" stroke="#2a2a2a" stroke-width="1"/>
<text x="311.2" y="358.75" font-size="10.5" text-anchor="end" fill="#1a1a1a" stroke="#1a1a1a" stroke-width="0.3" >150</text>
<line x1="312.1" y1="325" x2="314.6" y2="325" stroke="#2a2a2a" stroke-width="1"/>
<text x="311.2" y="328.9" font-size="10.5" text-anchor="end" fill="#1a1a1a" stroke="#1a1a1a" stroke-width="0.3" >200</text>
<line x1="312.1" y1="295.15" x2="314.6" y2="295.15" stroke="#2a2a2a" stroke-width="1"/>
<text x="311.2" y="299.05" font-size="10.5" text-anchor="end" fill="#1a1a1a" stroke="#1a1a1a" stroke-width="0.3" >250</text>
<line x1="312.1" y1="265.3" x2="314.6" y2="265.3" stroke="#2a2a2a" stroke-width="1"/>
<text x="311.2" y="269.2" font-size="10.5" text-anchor="end" fill="#1a1a1a" stroke="#1a1a1a" stroke-width="0.3" >300</text>
<line x1="314.6" y1="444.4" x2="314.6" y2="446.9" stroke="#2a2a2a" stroke-width="1"/>
<text x="314.6" y="457.8" font-size="10.5" text-anchor="middle" fill="#1a1a1a" stroke="#1a1a1a" stroke-width="0.3" >0</text>
<line x1="359.95" y1="444.4" x2="359.95" y2="446.9" stroke="#2a2a2a" stroke-width="1"/>
<text x="359.95" y="457.8" font-size="10.5" text-anchor="middle" fill="#1a1a1a" stroke="#1a1a1a" stroke-width="0.3" >10</text>
<line x1="405.3" y1="444.4" x2="405.3" y2="446.9" stroke="#2a2a2a" stroke-width="1"/>
<text x="405.3" y="457.8" font-size="10.5" text-anchor="middle" fill="#1a1a1a" stroke="#1a1a1a" stroke-width="0.3" >20</text>
<line x1="450.65" y1="444.4" x2="450.65" y2="446.9" stroke="#2a2a2a" stroke-width="1"/>
<text x="450.65" y="457.8" font-size="10.5" text-anchor="middle" fill="#1a1a1a" stroke="#1a1a1a" stroke-width="0.3" >30</text>
<line x1="496" y1="444.4" x2="496" y2="446.9" stroke="#2a2a2a" stroke-width="1"/>
<text x="496" y="457.8" font-size="10.5" text-anchor="middle" fill="#1a1a1a" stroke="#1a1a1a" stroke-width="0.3" >40</text>
<text x="405" y="474.2" font-size="12.4" text-anchor="middle" fill="#1a1a1a" stroke="#1a1a1a" stroke-width="0.3" >Time (minutes)</text>
<text x="285.7" y="353.6" font-size="12.2" text-anchor="middle" fill="#1a1a1a" stroke="#1a1a1a" stroke-width="0.3" transform="rotate(-90 285.7 353.6)">nM Thrombin</text>
<line x1="356.9" y1="280" x2="371.2" y2="280" stroke="#1a1a1a" stroke-width="1.4"/>
<text x="371.79" y="283.9" font-size="12.3" text-anchor="start" fill="#1a1a1a" stroke="#1a1a1a" stroke-width="0.3" >no TFPI or PS</text>
<text x="355.27" y="373.6" font-size="10.5" letter-spacing="0.25" fill="#1a1a1a" stroke="#1a1a1a" stroke-width="0.24">TFPI 1nM +</text>
<text x="418.27" y="373.6" font-size="10.9" text-anchor="start" font-weight="bold" fill="#000" >chimera III</text>
<text x="477.53" y="373.9" font-size="11.1" fill="#333" stroke="#333" stroke-width="0.21">(nM)</text>
<line x1="355.3" y1="374" x2="477.8" y2="374" stroke="#aaa" stroke-width="1.0"/>
<line x1="479" y1="386" x2="492.5" y2="386" stroke="#1a1a1a" stroke-width="1.4"/>
<text x="493.99" y="390.6" font-size="12.3" text-anchor="start" fill="#1a1a1a" stroke="#1a1a1a" stroke-width="0.3" >0</text>
<line x1="479" y1="397.5" x2="492.5" y2="397.5" stroke="#1a1a1a" stroke-width="1.4"/>
<text x="493.99" y="402.1" font-size="12.3" text-anchor="start" fill="#1a1a1a" stroke="#1a1a1a" stroke-width="0.3" >12.5</text>
<line x1="479" y1="409.3" x2="492.5" y2="409.3" stroke="#1a1a1a" stroke-width="1.4"/>
<text x="493.99" y="413.9" font-size="12.3" text-anchor="start" fill="#1a1a1a" stroke="#1a1a1a" stroke-width="0.3" >25</text>
<line x1="479" y1="420.6" x2="492.5" y2="420.6" stroke="#1a1a1a" stroke-width="1.4"/>
<text x="493.99" y="425.2" font-size="12.3" text-anchor="start" fill="#1a1a1a" stroke="#1a1a1a" stroke-width="0.3" >50</text>
<line x1="479" y1="431.5" x2="492.5" y2="431.5" stroke="#1a1a1a" stroke-width="1.4"/>
<text x="493.99" y="436.1" font-size="12.3" text-anchor="start" fill="#1a1a1a" stroke="#1a1a1a" stroke-width="0.3" >100</text>
<polyline fill="none" stroke="#1a1a1a" stroke-width="1.3" stroke-linejoin="round" points="314.6,444.4 315.3,444.4 316.0,444.4 316.6,444.4 317.3,444.4 318.0,444.4 318.7,444.4 319.4,444.4 320.0,444.4 320.7,444.4 321.4,444.4 322.1,444.4 322.8,444.4 323.4,444.4 324.1,444.4 324.8,444.4 325.5,444.4 326.2,444.4 326.8,444.4 327.5,444.4 328.2,444.4 328.9,444.0 329.6,438.2 330.2,427.3 330.9,413.4 331.6,398.6 332.3,385.0 333.0,372.1 333.6,357.9 334.3,343.2 335.0,329.0 335.7,316.0 336.4,305.3 337.0,296.0 337.7,287.0 338.4,280.7 339.1,279.1 339.8,280.7 340.4,283.7 341.1,287.6 341.8,292.2 342.5,299.1 343.2,306.7 343.9,313.5 344.5,320.4 345.2,327.4 345.9,334.5 346.6,341.5 347.3,348.4 347.9,355.0 348.6,361.2 349.3,366.9 350.0,372.0 350.7,376.5 351.3,380.5 352.0,384.2 352.7,387.4 353.4,390.4 354.1,393.2 354.7,395.7 355.4,398.0 356.1,400.3 356.8,402.6 357.5,404.8 358.1,407.2 358.8,409.7 359.5,412.2 360.2,414.7 360.9,417.0 361.5,419.2 362.2,421.1 362.9,422.9 363.6,424.7 364.3,426.4 364.9,427.9 365.6,429.3 366.3,430.5 367.0,431.3 367.7,431.8 368.3,432.2 369.0,432.5 369.7,432.9 370.4,433.3 371.1,434.0 371.7,436.4 372.4,439.5 373.1,441.7 373.8,442.0 374.5,442.1 375.1,442.2 375.8,442.3 376.5,442.4 377.2,442.6 377.9,442.9 378.5,443.3 379.2,443.7 379.9,444.1"/>
<polyline fill="none" stroke="#1a1a1a" stroke-width="1.3" stroke-linejoin="round" points="337.7,444.4 338.4,444.2 339.1,443.8 339.8,443.4 340.4,442.8 341.1,442.1 341.8,441.2 342.5,440.1 343.2,439.0 343.9,437.8 344.5,436.5 345.2,435.2 345.9,433.9 346.6,432.3 347.3,431.1 347.9,429.5 348.6,427.9 349.3,426.1 350.0,424.2 350.7,422.6 351.3,421.0 352.0,419.9 352.7,418.7 353.4,417.2 354.1,416.2 354.7,414.6 355.4,413.3 356.1,411.9 356.8,410.4 357.5,409.1 358.1,407.5 358.8,406.3 359.5,405.2 360.2,404.3 360.9,403.8 361.5,403.5 362.2,402.8 362.9,402.4 363.6,402.0 364.3,401.5 364.9,401.2 365.6,401.0 366.3,400.6 367.0,400.4 367.7,400.4 368.3,400.3 369.0,400.2 369.7,400.6 370.4,400.4 371.1,400.6 371.7,400.4 372.4,401.2 373.1,401.1 373.8,401.2 374.5,401.3 375.1,401.6 375.8,401.6 376.5,401.9 377.2,403.2 377.9,404.2 378.5,404.6 379.2,404.8 379.9,405.2 380.6,404.3 381.3,403.9 381.9,405.4 382.6,405.8 383.3,406.9 384.0,407.8 384.7,408.7 385.3,408.7 386.0,409.1 386.7,409.6 387.4,409.0 388.1,410.3 388.7,411.4 389.4,411.2 390.1,412.4 390.8,412.5 391.5,413.2 392.1,413.6 392.8,415.1 393.5,415.5 394.2,415.2 394.9,415.0 395.5,416.4 396.2,415.3 396.9,414.6 397.6,414.7 398.3,417.3 399.0,417.5 399.6,418.7 400.3,419.6 401.0,418.9 401.7,419.7 402.4,418.4 403.0,417.6 403.7,418.0 404.4,418.4 405.1,418.8 405.8,420.5 406.4,420.5 407.1,421.8 407.8,421.4 408.5,421.1 409.2,421.3 409.8,422.1 410.5,421.4 411.2,422.0 411.9,422.4 412.6,422.6 413.2,423.0 413.9,423.1 414.6,425.1 415.3,425.8 416.0,426.0 416.6,426.1 417.3,427.1 418.0,426.4 418.7,426.8 419.4,426.4 420.0,426.4 420.7,427.3 421.4,427.7 422.1,427.6 422.8,427.7 423.4,427.7 424.1,428.1 424.8,427.7 425.5,428.4 426.2,428.3 426.8,427.6 427.5,426.9 428.2,425.8 428.9,427.2 429.6,427.5 430.2,427.8 430.9,429.0 431.6,429.5 432.3,429.7 433.0,431.2 433.6,431.9 434.3,431.9 435.0,431.9 435.7,431.9 436.4,431.0 437.0,433.1 437.7,433.4 438.4,433.2 439.1,434.6 439.8,433.5 440.4,433.8 441.1,433.1 441.8,433.4 442.5,433.9 443.2,433.4 443.8,433.3 444.5,433.8 445.2,433.5 445.9,433.8 446.6,433.1 447.2,434.5 447.9,435.3 448.6,436.3 449.3,436.6 450.0,435.4 450.7,433.5 451.3,431.2 452.0,436.4 452.7,436.9 453.4,438.2 454.1,437.6 454.7,438.1 455.4,436.8 456.1,437.2 456.8,438.0 457.5,438.2 458.1,437.3 458.8,437.2 459.5,436.8 460.2,437.3 460.9,437.7 461.5,438.0 462.2,438.9 462.9,439.3 463.6,439.1 464.3,439.7 464.9,439.2 465.6,438.6 466.3,439.4 467.0,440.5 467.7,439.8 468.3,439.9 469.0,440.5 469.7,440.4 470.4,440.5 471.1,440.4 471.7,441.1 472.4,440.8 473.1,441.2 473.8,441.4 474.5,440.2 475.1,440.7 475.8,440.0 476.5,440.1 477.2,438.9 477.9,439.3 478.5,439.2 479.2,439.8 479.9,439.7 480.6,440.8 481.3,440.6 481.9,441.8 482.6,442.2 483.3,441.9 484.0,442.7 484.7,442.8 485.3,443.2 486.0,441.9 486.7,442.9 487.4,442.7 488.1,443.0 488.7,442.3 489.4,442.5 490.1,442.3 490.8,442.5 491.5,441.8 492.1,440.7 492.8,440.4 493.5,440.4 494.2,440.5 494.9,441.0 495.5,441.3"/>
<polyline fill="none" stroke="#1a1a1a" stroke-width="1.3" stroke-linejoin="round" points="337.7,444.4 338.4,444.2 339.1,443.8 339.8,443.4 340.4,442.8 341.1,442.1 341.8,441.2 342.5,440.1 343.2,439.0 343.9,437.7 344.5,436.3 345.2,435.2 345.9,433.8 346.6,432.3 347.3,430.7 347.9,429.1 348.6,427.5 349.3,425.7 350.0,424.5 350.7,423.2 351.3,422.0 352.0,421.1 352.7,419.9 353.4,418.5 354.1,417.5 354.7,416.5 355.4,415.7 356.1,414.6 356.8,413.8 357.5,412.8 358.1,412.4 358.8,411.8 359.5,411.5 360.2,411.1 360.9,410.9 361.5,410.7 362.2,410.1 362.9,409.6 363.6,409.0 364.3,408.2 364.9,408.1 365.6,407.9 366.3,408.0 367.0,407.9 367.7,407.7 368.3,407.3 369.0,407.1 369.7,406.9 370.4,406.7 371.1,406.7 371.7,406.6 372.4,406.2 373.1,406.0 373.8,405.9 374.5,405.9 375.1,406.2 375.8,407.0 376.5,407.5 377.2,407.5 377.9,407.0 378.5,407.1 379.2,407.1 379.9,406.9 380.6,407.5 381.3,407.4 381.9,407.2 382.6,407.7 383.3,407.8 384.0,408.1 384.7,408.9 385.3,408.4 386.0,409.4 386.7,409.7 387.4,410.1 388.1,411.3 388.7,411.0 389.4,411.5 390.1,412.0 390.8,411.9 391.5,412.9 392.1,413.3 392.8,413.4 393.5,414.5 394.2,412.9 394.9,414.1 395.5,414.5 396.2,415.6 396.9,415.5 397.6,416.0 398.3,417.5 399.0,417.3 399.6,418.2 400.3,418.6 401.0,419.2 401.7,419.5 402.4,419.5 403.0,420.7 403.7,421.9 404.4,423.5 405.1,424.0 405.8,424.1 406.4,423.5 407.1,423.6 407.8,423.5 408.5,423.8 409.2,424.2 409.8,423.0 410.5,423.4 411.2,423.2 411.9,423.0 412.6,423.5 413.2,422.5 413.9,422.2 414.6,422.9 415.3,421.9 416.0,423.2 416.6,422.9 417.3,424.5 418.0,425.7 418.7,427.1 419.4,427.4 420.0,426.7 420.7,427.6 421.4,428.2 422.1,428.3 422.8,428.6 423.4,428.7 424.1,428.5 424.8,427.7 425.5,427.1 426.2,427.8 426.8,429.4 427.5,429.4 428.2,430.8 428.9,431.1 429.6,431.0 430.2,431.2 430.9,432.4 431.6,431.6 432.3,432.6 433.0,431.7 433.6,432.5 434.3,431.6 435.0,432.9 435.7,432.8 436.4,433.2 437.0,434.3 437.7,434.3 438.4,433.6 439.1,433.2 439.8,432.6 440.4,431.7 441.1,431.7 441.8,432.0 442.5,433.4 443.2,433.5 443.8,434.4 444.5,435.0 445.2,435.2 445.9,435.9 446.6,436.2 447.2,436.6 447.9,436.3 448.6,436.4 449.3,435.4 450.0,436.5 450.7,436.1 451.3,437.0 452.0,437.7 452.7,438.5 453.4,437.8 454.1,437.0 454.7,437.6 455.4,436.7 456.1,437.3 456.8,436.3 457.5,437.7 458.1,437.9 458.8,438.5 459.5,439.0 460.2,440.7 460.9,440.1 461.5,440.5 462.2,440.4 462.9,439.6 463.6,439.9 464.3,439.9 464.9,439.8 465.6,439.6 466.3,440.2 467.0,439.8 467.7,440.2 468.3,441.1 469.0,441.2 469.7,442.0 470.4,440.5 471.1,440.5 471.7,439.0 472.4,439.8 473.1,439.5 473.8,440.4 474.5,441.0 475.1,441.0 475.8,441.4 476.5,441.3 477.2,440.8 477.9,441.2 478.5,442.0 479.2,441.2 479.9,441.9 480.6,442.0 481.3,441.3 481.9,442.1 482.6,441.5 483.3,441.1 484.0,441.5 484.7,441.0 485.3,441.5 486.0,441.0 486.7,440.9 487.4,440.6 488.1,440.7 488.7,441.1 489.4,440.6 490.1,440.9 490.8,440.6 491.5,440.2 492.1,440.2 492.8,440.5 493.5,440.2 494.2,439.8 494.9,439.5 495.5,440.4"/>
<polyline fill="none" stroke="#1a1a1a" stroke-width="1.3" stroke-linejoin="round" points="337.7,444.4 338.4,444.2 339.1,443.8 339.8,443.4 340.4,442.8 341.1,442.1 341.8,441.2 342.5,440.1 343.2,439.0 343.9,437.7 344.5,436.4 345.2,435.1 345.9,433.9 346.6,432.4 347.3,430.7 347.9,429.1 348.6,427.5 349.3,426.0 350.0,424.6 350.7,423.4 351.3,422.0 352.0,421.1 352.7,419.9 353.4,418.8 354.1,418.1 354.7,417.1 355.4,416.4 356.1,415.6 356.8,415.2 357.5,414.5 358.1,414.1 358.8,413.4 359.5,412.8 360.2,412.5 360.9,412.2 361.5,411.9 362.2,411.4 362.9,411.3 363.6,410.8 364.3,410.7 364.9,410.2 365.6,410.0 366.3,409.8 367.0,409.6 367.7,409.3 368.3,409.0 369.0,408.8 369.7,408.7 370.4,408.5 371.1,408.3 371.7,408.7 372.4,408.7 373.1,409.0 373.8,408.6 374.5,408.6 375.1,409.1 375.8,409.0 376.5,409.1 377.2,409.5 377.9,409.6 378.5,409.3 379.2,409.2 379.9,408.2 380.6,408.2 381.3,408.7 381.9,409.5 382.6,409.9 383.3,410.2 384.0,409.9 384.7,410.0 385.3,410.4 386.0,410.1 386.7,410.6 387.4,410.2 388.1,410.9 388.7,411.5 389.4,411.8 390.1,413.1 390.8,413.2 391.5,413.4 392.1,412.5 392.8,413.4 393.5,414.4 394.2,414.4 394.9,415.4 395.5,415.2 396.2,416.3 396.9,417.2 397.6,418.1 398.3,418.7 399.0,419.3 399.6,418.9 400.3,418.9 401.0,419.5 401.7,419.8 402.4,419.7 403.0,419.2 403.7,419.6 404.4,419.8 405.1,419.7 405.8,420.7 406.4,421.5 407.1,420.9 407.8,421.4 408.5,421.2 409.2,421.3 409.8,422.4 410.5,422.2 411.2,423.0 411.9,424.2 412.6,423.3 413.2,422.8 413.9,422.3 414.6,421.4 415.3,422.1 416.0,424.0 416.6,424.8 417.3,426.3 418.0,427.4 418.7,427.5 419.4,428.1 420.0,428.3 420.7,427.8 421.4,428.4 422.1,428.2 422.8,428.5 423.4,429.7 424.1,429.5 424.8,430.5 425.5,430.3 426.2,430.1 426.8,429.2 427.5,428.1 428.2,428.9 428.9,429.0 429.6,430.0 430.2,428.8 430.9,429.3 431.6,429.9 432.3,430.6 433.0,431.3 433.6,431.6 434.3,431.7 435.0,432.8 435.7,433.0 436.4,433.9 437.0,433.9 437.7,433.3 438.4,434.6 439.1,435.1 439.8,435.4 440.4,436.5 441.1,435.5 441.8,435.3 442.5,435.7 443.2,435.1 443.8,436.1 444.5,434.7 445.2,435.6 445.9,435.9 446.6,436.0 447.2,435.7 447.9,436.9 448.6,437.7 449.3,438.1 450.0,437.8 450.7,438.8 451.3,438.4 452.0,437.2 452.7,437.1 453.4,437.6 454.1,437.6 454.7,437.3 455.4,436.3 456.1,437.3 456.8,437.4 457.5,438.2 458.1,438.4 458.8,438.5 459.5,438.8 460.2,439.7 460.9,438.6 461.5,439.4 462.2,438.1 462.9,438.5 463.6,438.6 464.3,438.3 464.9,438.7 465.6,439.3 466.3,439.5 467.0,439.6 467.7,440.4 468.3,440.6 469.0,440.7 469.7,440.4 470.4,440.1 471.1,440.4 471.7,440.1 472.4,440.4 473.1,439.8 473.8,440.3 474.5,441.1 475.1,441.9 475.8,441.8 476.5,441.7 477.2,441.0 477.9,440.9 478.5,441.8 479.2,441.6 479.9,441.0 480.6,440.7 481.3,440.0 481.9,440.3 482.6,440.0 483.3,440.8 484.0,440.8 484.7,441.6 485.3,442.1 486.0,441.7 486.7,442.6 487.4,444.2 488.1,444.3 488.7,444.2 489.4,444.9 490.1,443.3 490.8,442.6 491.5,442.4 492.1,441.6 492.8,442.6 493.5,441.3 494.2,442.3 494.9,442.0 495.5,442.2"/>
<polyline fill="none" stroke="#1a1a1a" stroke-width="1.3" stroke-linejoin="round" points="337.7,444.4 338.4,444.2 339.1,443.8 339.8,443.4 340.4,442.8 341.1,442.1 341.8,441.2 342.5,440.1 343.2,438.9 343.9,437.7 344.5,436.3 345.2,434.9 345.9,433.6 346.6,432.2 347.3,430.7 347.9,429.2 348.6,427.4 349.3,426.1 350.0,424.6 350.7,423.3 351.3,422.3 352.0,421.1 352.7,420.2 353.4,419.2 354.1,418.2 354.7,417.8 355.4,416.9 356.1,416.4 356.8,415.8 357.5,415.3 358.1,415.3 358.8,414.9 359.5,414.8 360.2,414.4 360.9,413.9 361.5,413.3 362.2,413.2 362.9,412.9 363.6,412.9 364.3,412.7 364.9,412.8 365.6,412.4 366.3,412.1 367.0,412.1 367.7,411.8 368.3,411.7 369.0,411.3 369.7,411.1 370.4,411.1 371.1,411.0 371.7,410.9 372.4,410.8 373.1,410.6 373.8,410.4 374.5,411.2 375.1,411.3 375.8,410.8 376.5,411.1 377.2,410.9 377.9,410.0 378.5,410.2 379.2,410.1 379.9,410.1 380.6,409.7 381.3,410.1 381.9,409.3 382.6,409.6 383.3,409.8 384.0,410.0 384.7,410.3 385.3,410.5 386.0,410.5 386.7,411.2 387.4,411.2 388.1,411.5 388.7,411.2 389.4,412.0 390.1,412.2 390.8,412.4 391.5,413.1 392.1,414.0 392.8,414.6 393.5,414.2 394.2,414.7 394.9,414.7 395.5,415.4 396.2,416.2 396.9,416.1 397.6,416.7 398.3,418.4 399.0,418.6 399.6,418.5 400.3,419.0 401.0,419.6 401.7,419.6 402.4,420.0 403.0,422.0 403.7,422.4 404.4,423.1 405.1,423.8 405.8,424.4 406.4,423.6 407.1,423.7 407.8,422.7 408.5,423.5 409.2,424.2 409.8,424.8 410.5,424.4 411.2,424.9 411.9,425.4 412.6,425.6 413.2,426.2 413.9,426.3 414.6,426.0 415.3,426.6 416.0,425.8 416.6,426.9 417.3,427.7 418.0,428.7 418.7,429.2 419.4,428.7 420.0,428.7 420.7,428.9 421.4,428.9 422.1,429.1 422.8,428.8 423.4,428.6 424.1,429.3 424.8,428.0 425.5,428.9 426.2,427.8 426.8,428.2 427.5,429.2 428.2,430.6 428.9,430.8 429.6,432.0 430.2,432.0 430.9,432.3 431.6,432.3 432.3,431.9 433.0,432.0 433.6,432.4 434.3,433.4 435.0,433.8 435.7,434.1 436.4,434.6 437.0,434.8 437.7,434.5 438.4,434.4 439.1,434.4 439.8,434.8 440.4,435.2 441.1,435.0 441.8,435.4 442.5,436.2 443.2,435.6 443.8,435.7 444.5,435.9 445.2,436.4 445.9,436.3 446.6,435.8 447.2,436.4 447.9,436.4 448.6,437.2 449.3,436.8 450.0,438.4 450.7,438.0 451.3,438.0 452.0,438.1 452.7,438.4 453.4,439.3 454.1,439.1 454.7,439.0 455.4,438.9 456.1,438.9 456.8,437.8 457.5,437.9 458.1,438.9 458.8,438.8 459.5,439.2 460.2,440.0 460.9,439.5 461.5,439.2 462.2,438.7 462.9,438.7 463.6,439.8 464.3,439.3 464.9,440.7 465.6,442.2 466.3,443.1 467.0,441.9 467.7,440.7 468.3,439.8 469.0,439.4 469.7,440.2 470.4,440.2 471.1,441.4 471.7,441.4 472.4,441.8 473.1,442.9 473.8,442.7 474.5,442.3 475.1,442.4 475.8,441.9 476.5,441.6 477.2,442.2 477.9,442.2 478.5,442.2 479.2,442.7 479.9,442.8 480.6,442.6 481.3,443.2 481.9,442.6 482.6,442.4 483.3,442.8 484.0,441.9 484.7,441.9 485.3,442.4 486.0,442.2 486.7,442.4 487.4,443.0 488.1,442.1 488.7,442.6 489.4,442.1 490.1,442.5 490.8,443.3 491.5,443.4 492.1,444.2 492.8,443.3 493.5,442.9 494.2,442.9 494.9,443.2 495.5,442.6"/>
<polyline fill="none" stroke="#1a1a1a" stroke-width="1.3" stroke-linejoin="round" points="337.7,444.4 338.4,444.2 339.1,443.8 339.8,443.4 340.4,442.8 341.1,442.1 341.8,441.2 342.5,440.1 343.2,439.0 343.9,437.8 344.5,436.6 345.2,435.4 345.9,434.1 346.6,432.9 347.3,431.0 347.9,429.1 348.6,427.3 349.3,425.7 350.0,424.8 350.7,423.7 351.3,423.0 352.0,421.8 352.7,420.6 353.4,419.6 354.1,418.6 354.7,417.9 355.4,417.7 356.1,417.4 356.8,416.7 357.5,416.3 358.1,416.3 358.8,415.8 359.5,415.6 360.2,415.3 360.9,414.6 361.5,414.6 362.2,414.4 362.9,414.2 363.6,414.0 364.3,413.6 364.9,413.1 365.6,412.9 366.3,412.8 367.0,412.7 367.7,412.4 368.3,412.3 369.0,412.2 369.7,412.2 370.4,411.9 371.1,411.8 371.7,411.7 372.4,411.6 373.1,411.4 373.8,411.5 374.5,411.4 375.1,411.4 375.8,411.2 376.5,411.1 377.2,411.3 377.9,411.4 378.5,411.5 379.2,411.4 379.9,411.4 380.6,411.3 381.3,411.4 381.9,411.3 382.6,411.5 383.3,411.7 384.0,411.2 384.7,411.7 385.3,411.6 386.0,411.5 386.7,411.4 387.4,411.1 388.1,411.1 388.7,411.3 389.4,411.1 390.1,410.8 390.8,411.7 391.5,412.2 392.1,412.7 392.8,413.8 393.5,413.4 394.2,414.2 394.9,415.3 395.5,415.5 396.2,416.9 396.9,416.8 397.6,417.5 398.3,418.0 399.0,418.7 399.6,417.9 400.3,418.3 401.0,417.2 401.7,418.3 402.4,419.6 403.0,419.8 403.7,419.7 404.4,421.3 405.1,421.3 405.8,420.9 406.4,421.6 407.1,421.6 407.8,422.2 408.5,422.2 409.2,423.0 409.8,422.9 410.5,424.1 411.2,423.0 411.9,423.4 412.6,423.7 413.2,424.1 413.9,425.2 414.6,426.1 415.3,425.8 416.0,427.3 416.6,427.8 417.3,426.7 418.0,426.4 418.7,425.9 419.4,426.9 420.0,427.5 420.7,428.0 421.4,428.4 422.1,427.4 422.8,427.0 423.4,426.5 424.1,426.7 424.8,427.5 425.5,426.8 426.2,428.2 426.8,429.4 427.5,429.0 428.2,430.1 428.9,430.4 429.6,430.8 430.2,431.0 430.9,431.9 431.6,431.9 432.3,432.0 433.0,431.8 433.6,432.8 434.3,432.5 435.0,431.7 435.7,431.8 436.4,431.9 437.0,432.4 437.7,432.2 438.4,433.1 439.1,433.6 439.8,434.1 440.4,434.4 441.1,433.8 441.8,433.9 442.5,434.4 443.2,433.3 443.8,433.3 444.5,434.3 445.2,435.7 445.9,437.0 446.6,436.9 447.2,436.9 447.9,438.0 448.6,437.5 449.3,437.8 450.0,437.7 450.7,438.2 451.3,439.0 452.0,438.2 452.7,438.7 453.4,439.3 454.1,439.8 454.7,439.7 455.4,438.8 456.1,438.9 456.8,437.2 457.5,438.6 458.1,438.7 458.8,439.2 459.5,439.4 460.2,439.3 460.9,440.3 461.5,438.6 462.2,438.6 462.9,437.7 463.6,438.0 464.3,439.1 464.9,439.3 465.6,438.7 466.3,439.2 467.0,440.1 467.7,440.2 468.3,441.3 469.0,441.2 469.7,442.2 470.4,442.3 471.1,441.7 471.7,441.7 472.4,441.2 473.1,441.4 473.8,441.1 474.5,440.0 475.1,440.5 475.8,440.9 476.5,440.5 477.2,440.8 477.9,439.5 478.5,440.0 479.2,439.2 479.9,439.1 480.6,439.8 481.3,440.5 481.9,441.1 482.6,440.8 483.3,441.4 484.0,441.4 484.7,442.3 485.3,442.1 486.0,442.7 486.7,442.4 487.4,442.7 488.1,442.3 488.7,442.1 489.4,440.1 490.1,440.2 490.8,441.7 491.5,443.3 492.1,444.0 492.8,443.3 493.5,442.6 494.2,442.8 494.9,442.1 495.5,441.7"/>
<text x="0.1" y="501.4" font-size="17.4" font-weight="bold" fill="#000" stroke="#000" stroke-width="0.35">E</text>
<line x1="39.5" y1="688" x2="39.5" y2="507.7" stroke="#222" stroke-width="1.0"/>
<line x1="39" y1="687.5" x2="221.65" y2="687.5" stroke="#222" stroke-width="1.0"/>
<line x1="36.65" y1="687.2" x2="39.15" y2="687.2" stroke="#2a2a2a" stroke-width="1"/>
<text x="35.75" y="691.1" font-size="10.5" text-anchor="end" fill="#1a1a1a" stroke="#1a1a1a" stroke-width="0.3" >0</text>
<line x1="36.65" y1="669.33" x2="39.15" y2="669.33" stroke="#2a2a2a" stroke-width="1"/>
<text x="35.75" y="673.23" font-size="10.5" text-anchor="end" fill="#1a1a1a" stroke="#1a1a1a" stroke-width="0.3" >10</text>
<line x1="36.65" y1="651.46" x2="39.15" y2="651.46" stroke="#2a2a2a" stroke-width="1"/>
<text x="35.75" y="655.36" font-size="10.5" text-anchor="end" fill="#1a1a1a" stroke="#1a1a1a" stroke-width="0.3" >20</text>
<line x1="36.65" y1="633.59" x2="39.15" y2="633.59" stroke="#2a2a2a" stroke-width="1"/>
<text x="35.75" y="637.49" font-size="10.5" text-anchor="end" fill="#1a1a1a" stroke="#1a1a1a" stroke-width="0.3" >30</text>
<line x1="36.65" y1="615.72" x2="39.15" y2="615.72" stroke="#2a2a2a" stroke-width="1"/>
<text x="35.75" y="619.62" font-size="10.5" text-anchor="end" fill="#1a1a1a" stroke="#1a1a1a" stroke-width="0.3" >40</text>
<line x1="36.65" y1="597.85" x2="39.15" y2="597.85" stroke="#2a2a2a" stroke-width="1"/>
<text x="35.75" y="601.75" font-size="10.5" text-anchor="end" fill="#1a1a1a" stroke="#1a1a1a" stroke-width="0.3" >50</text>
<line x1="36.65" y1="579.98" x2="39.15" y2="579.98" stroke="#2a2a2a" stroke-width="1"/>
<text x="35.75" y="583.88" font-size="10.5" text-anchor="end" fill="#1a1a1a" stroke="#1a1a1a" stroke-width="0.3" >60</text>
<line x1="36.65" y1="562.11" x2="39.15" y2="562.11" stroke="#2a2a2a" stroke-width="1"/>
<text x="35.75" y="566.01" font-size="10.5" text-anchor="end" fill="#1a1a1a" stroke="#1a1a1a" stroke-width="0.3" >70</text>
<line x1="36.65" y1="544.24" x2="39.15" y2="544.24" stroke="#2a2a2a" stroke-width="1"/>
<text x="35.75" y="548.14" font-size="10.5" text-anchor="end" fill="#1a1a1a" stroke="#1a1a1a" stroke-width="0.3" >80</text>
<line x1="36.65" y1="526.37" x2="39.15" y2="526.37" stroke="#2a2a2a" stroke-width="1"/>
<text x="35.75" y="530.27" font-size="10.5" text-anchor="end" fill="#1a1a1a" stroke="#1a1a1a" stroke-width="0.3" >90</text>
<line x1="36.65" y1="508.5" x2="39.15" y2="508.5" stroke="#2a2a2a" stroke-width="1"/>
<text x="35.75" y="512.4" font-size="10.5" text-anchor="end" fill="#1a1a1a" stroke="#1a1a1a" stroke-width="0.3" >100</text>
<line x1="39.15" y1="687.2" x2="39.15" y2="689.7" stroke="#2a2a2a" stroke-width="1"/>
<text x="39.15" y="700.6" font-size="10.5" text-anchor="middle" fill="#1a1a1a" stroke="#1a1a1a" stroke-width="0.3" >0</text>
<line x1="84.57" y1="687.2" x2="84.57" y2="689.7" stroke="#2a2a2a" stroke-width="1"/>
<text x="84.57" y="700.6" font-size="10.5" text-anchor="middle" fill="#1a1a1a" stroke="#1a1a1a" stroke-width="0.3" >25</text>
<line x1="130" y1="687.2" x2="130" y2="689.7" stroke="#2a2a2a" stroke-width="1"/>
<text x="130" y="700.6" font-size="10.5" text-anchor="middle" fill="#1a1a1a" stroke="#1a1a1a" stroke-width="0.3" >50</text>
<line x1="175.43" y1="687.2" x2="175.43" y2="689.7" stroke="#2a2a2a" stroke-width="1"/>
<text x="175.43" y="700.6" font-size="10.5" text-anchor="middle" fill="#1a1a1a" stroke="#1a1a1a" stroke-width="0.3" >75</text>
<line x1="220.85" y1="687.2" x2="220.85" y2="689.7" stroke="#2a2a2a" stroke-width="1"/>
<text x="221.65" y="700.6" font-size="10.5" text-anchor="middle" fill="#1a1a1a" stroke="#1a1a1a" stroke-width="0.3" >100</text>
<text x="129.5" y="715.3" font-size="12.5" text-anchor="middle" fill="#1a1a1a" stroke="#1a1a1a" stroke-width="0.3" >Protein S (nM)</text>
<text x="10.6" y="596.5" font-size="12.1" text-anchor="middle" fill="#1a1a1a" stroke="#1a1a1a" stroke-width="0.3" transform="rotate(-90 10.6 596.5)">Peak Thrombin (%)</text>
<polyline fill="none" stroke="#1a1a1a" stroke-width="1.4" points="39.1,508.5 41.0,510.6 42.8,512.5 44.6,514.3 46.4,515.8 48.2,517.2 50.1,518.4 51.9,519.5 53.7,520.4 55.5,521.3 57.3,522.1 59.1,522.8 61.0,523.4 62.8,524.0 64.6,524.5 66.4,524.9 68.2,525.3 70.0,525.6 71.9,525.9 73.7,526.2 75.5,526.5 77.3,526.7 79.1,526.9 80.9,527.1 82.8,527.2 84.6,527.4 86.4,527.5 88.2,527.6 90.0,527.7 91.8,527.8 93.7,527.9 95.5,527.9 97.3,528.0 99.1,528.0 100.9,528.1 102.7,528.1 104.6,528.2 106.4,528.2 108.2,528.2 110.0,528.3 111.8,528.3 113.6,528.3 115.5,528.3 117.3,528.3 119.1,528.3 120.9,528.4 122.7,528.4 124.5,528.4 126.4,528.4 128.2,528.4 130.0,528.4 131.8,528.4 133.6,528.4 135.5,528.4 137.3,528.4 139.1,528.4 140.9,528.4 142.7,528.4 144.5,528.4 146.4,528.4 148.2,528.4 150.0,528.4 151.8,528.4 153.6,528.4 155.4,528.4 157.3,528.4 159.1,528.4 160.9,528.4 162.7,528.4 164.5,528.4 166.3,528.4 168.2,528.4 170.0,528.4 171.8,528.4 173.6,528.4 175.4,528.4 177.2,528.4 179.1,528.4 180.9,528.4 182.7,528.4 184.5,528.4 186.3,528.4 188.1,528.4 190.0,528.4 191.8,528.4 193.6,528.4 195.4,528.4 197.2,528.4 199.0,528.4 200.9,528.4 202.7,528.4 204.5,528.4 206.3,528.4 208.1,528.4 209.9,528.4 211.8,528.4 213.6,528.4 215.4,528.4 217.2,528.4 219.0,528.4 220.8,528.4"/>
<polyline fill="none" stroke="#1a1a1a" stroke-width="1.4" points="39.1,508.5 41.0,509.2 42.8,510.0 44.6,510.7 46.4,511.5 48.2,512.2 50.1,513.0 51.9,513.8 53.7,514.5 55.5,515.3 57.3,516.1 59.1,516.8 61.0,517.6 62.8,518.4 64.6,519.2 66.4,520.0 68.2,520.7 70.0,521.5 71.9,522.3 73.7,523.1 75.5,523.9 77.3,524.7 79.1,525.4 80.9,526.2 82.8,527.0 84.6,527.8 86.4,528.6 88.2,529.4 90.0,530.2 91.8,530.9 93.7,531.7 95.5,532.5 97.3,533.3 99.1,534.1 100.9,534.9 102.7,535.6 104.6,536.4 106.4,537.2 108.2,538.0 110.0,538.8 111.8,539.5 113.6,540.3 115.5,541.1 117.3,541.9 119.1,542.7 120.9,543.4 122.7,544.2 124.5,545.0 126.4,545.8 128.2,546.5 130.0,547.3 131.8,548.1 133.6,548.8 135.5,549.6 137.3,550.4 139.1,551.1 140.9,551.9 142.7,552.7 144.5,553.4 146.4,554.2 148.2,555.0 150.0,555.7 151.8,556.5 153.6,557.2 155.4,558.0 157.3,558.8 159.1,559.5 160.9,560.3 162.7,561.0 164.5,561.8 166.3,562.5 168.2,563.3 170.0,564.0 171.8,564.8 173.6,565.5 175.4,566.3 177.2,567.0 179.1,567.8 180.9,568.5 182.7,569.2 184.5,570.0 186.3,570.7 188.1,571.5 190.0,572.2 191.8,572.9 193.6,573.7 195.4,574.4 197.2,575.2 199.0,575.9 200.9,576.6 202.7,577.3 204.5,578.1 206.3,578.8 208.1,579.5 209.9,580.3 211.8,581.0 213.6,581.7 215.4,582.4 217.2,583.2 219.0,583.9 220.8,584.6"/>
<polyline fill="none" stroke="#1a1a1a" stroke-width="1.4" points="39.1,508.5 41.0,513.9 42.8,519.2 44.6,524.2 46.4,528.9 48.2,533.5 50.1,537.9 51.9,542.0 53.7,546.0 55.5,549.8 57.3,553.4 59.1,556.8 61.0,560.1 62.8,563.3 64.6,566.3 66.4,569.1 68.2,571.9 70.0,574.5 71.9,577.0 73.7,579.4 75.5,581.6 77.3,583.8 79.1,585.9 80.9,587.9 82.8,589.8 84.6,591.6 86.4,593.3 88.2,594.9 90.0,596.5 91.8,598.0 93.7,599.4 95.5,600.8 97.3,602.1 99.1,603.4 100.9,604.6 102.7,605.7 104.6,606.8 106.4,607.8 108.2,608.8 110.0,609.7 111.8,610.6 113.6,611.5 115.5,612.3 117.3,613.1 119.1,613.9 120.9,614.6 122.7,615.3 124.5,615.9 126.4,616.5 128.2,617.1 130.0,617.7 131.8,618.2 133.6,618.7 135.5,619.2 137.3,619.7 139.1,620.2 140.9,620.6 142.7,621.0 144.5,621.4 146.4,621.8 148.2,622.1 150.0,622.5 151.8,622.8 153.6,623.1 155.4,623.4 157.3,623.7 159.1,623.9 160.9,624.2 162.7,624.4 164.5,624.7 166.3,624.9 168.2,625.1 170.0,625.3 171.8,625.5 173.6,625.7 175.4,625.9 177.2,626.0 179.1,626.2 180.9,626.4 182.7,626.5 184.5,626.6 186.3,626.8 188.1,626.9 190.0,627.0 191.8,627.1 193.6,627.3 195.4,627.4 197.2,627.5 199.0,627.6 200.9,627.7 202.7,627.7 204.5,627.8 206.3,627.9 208.1,628.0 209.9,628.1 211.8,628.1 213.6,628.2 215.4,628.3 217.2,628.3 219.0,628.4 220.8,628.4"/>
<polyline fill="none" stroke="#1a1a1a" stroke-width="1.4" points="39.1,508.5 41.0,512.7 42.8,516.8 44.6,520.8 46.4,524.7 48.2,528.4 50.1,532.1 51.9,535.6 53.7,539.0 55.5,542.3 57.3,545.5 59.1,548.7 61.0,551.7 62.8,554.6 64.6,557.4 66.4,560.2 68.2,562.8 70.0,565.4 71.9,567.9 73.7,570.3 75.5,572.7 77.3,575.0 79.1,577.2 80.9,579.3 82.8,581.4 84.6,583.4 86.4,585.3 88.2,587.2 90.0,589.0 91.8,590.8 93.7,592.5 95.5,594.2 97.3,595.8 99.1,597.3 100.9,598.8 102.7,600.3 104.6,601.7 106.4,603.1 108.2,604.4 110.0,605.7 111.8,607.0 113.6,608.2 115.5,609.3 117.3,610.5 119.1,611.6 120.9,612.6 122.7,613.7 124.5,614.7 126.4,615.7 128.2,616.6 130.0,617.5 131.8,618.4 133.6,619.2 135.5,620.1 137.3,620.9 139.1,621.7 140.9,622.4 142.7,623.1 144.5,623.8 146.4,624.5 148.2,625.2 150.0,625.8 151.8,626.5 153.6,627.1 155.4,627.6 157.3,628.2 159.1,628.8 160.9,629.3 162.7,629.8 164.5,630.3 166.3,630.8 168.2,631.3 170.0,631.7 171.8,632.2 173.6,632.6 175.4,633.0 177.2,633.4 179.1,633.8 180.9,634.2 182.7,634.5 184.5,634.9 186.3,635.2 188.1,635.5 190.0,635.9 191.8,636.2 193.6,636.5 195.4,636.8 197.2,637.0 199.0,637.3 200.9,637.6 202.7,637.8 204.5,638.1 206.3,638.3 208.1,638.6 209.9,638.8 211.8,639.0 213.6,639.2 215.4,639.4 217.2,639.6 219.0,639.8 220.8,640.0"/>
<line x1="61.86" y1="512.6" x2="61.86" y2="533.12" stroke="#444" stroke-width="1.0"/>
<line x1="59.16" y1="512.6" x2="64.56" y2="512.6" stroke="#444" stroke-width="1.0"/>
<line x1="59.16" y1="533.12" x2="64.56" y2="533.12" stroke="#444" stroke-width="1.0"/>
<line x1="84.57" y1="510.26" x2="84.57" y2="548.6" stroke="#444" stroke-width="1.0"/>
<line x1="81.87" y1="510.26" x2="87.27" y2="510.26" stroke="#444" stroke-width="1.0"/>
<line x1="81.87" y1="548.6" x2="87.27" y2="548.6" stroke="#444" stroke-width="1.0"/>
<line x1="130" y1="516.74" x2="130" y2="531.32" stroke="#444" stroke-width="1.0"/>
<line x1="127.3" y1="516.74" x2="132.7" y2="516.74" stroke="#444" stroke-width="1.0"/>
<line x1="127.3" y1="531.32" x2="132.7" y2="531.32" stroke="#444" stroke-width="1.0"/>
<line x1="220.85" y1="518.36" x2="220.85" y2="549.32" stroke="#444" stroke-width="1.0"/>
<line x1="218.15" y1="518.36" x2="223.55" y2="518.36" stroke="#444" stroke-width="1.0"/>
<line x1="218.15" y1="549.32" x2="223.55" y2="549.32" stroke="#444" stroke-width="1.0"/>
<line x1="61.86" y1="511.88" x2="61.86" y2="523.4" stroke="#444" stroke-width="1.0"/>
<line x1="59.16" y1="511.88" x2="64.56" y2="511.88" stroke="#444" stroke-width="1.0"/>
<line x1="59.16" y1="523.4" x2="64.56" y2="523.4" stroke="#444" stroke-width="1.0"/>
<line x1="84.57" y1="532.4" x2="84.57" y2="537.44" stroke="#444" stroke-width="1.0"/>
<line x1="81.87" y1="532.4" x2="87.27" y2="532.4" stroke="#444" stroke-width="1.0"/>
<line x1="81.87" y1="537.44" x2="87.27" y2="537.44" stroke="#444" stroke-width="1.0"/>
<line x1="130" y1="529.34" x2="130" y2="557.06" stroke="#444" stroke-width="1.0"/>
<line x1="127.3" y1="529.34" x2="132.7" y2="529.34" stroke="#444" stroke-width="1.0"/>
<line x1="127.3" y1="557.06" x2="132.7" y2="557.06" stroke="#444" stroke-width="1.0"/>
<line x1="220.85" y1="570.2" x2="220.85" y2="599.18" stroke="#444" stroke-width="1.0"/>
<line x1="218.15" y1="570.2" x2="223.55" y2="570.2" stroke="#444" stroke-width="1.0"/>
<line x1="218.15" y1="599.18" x2="223.55" y2="599.18" stroke="#444" stroke-width="1.0"/>
<line x1="61.86" y1="534.56" x2="61.86" y2="584.06" stroke="#444" stroke-width="1.0"/>
<line x1="59.16" y1="534.56" x2="64.56" y2="534.56" stroke="#444" stroke-width="1.0"/>
<line x1="59.16" y1="584.06" x2="64.56" y2="584.06" stroke="#444" stroke-width="1.0"/>
<line x1="84.57" y1="561.74" x2="84.57" y2="614.12" stroke="#444" stroke-width="1.0"/>
<line x1="81.87" y1="561.74" x2="87.27" y2="561.74" stroke="#444" stroke-width="1.0"/>
<line x1="81.87" y1="614.12" x2="87.27" y2="614.12" stroke="#444" stroke-width="1.0"/>
<line x1="130" y1="578.84" x2="130" y2="635" stroke="#444" stroke-width="1.0"/>
<line x1="127.3" y1="578.84" x2="132.7" y2="578.84" stroke="#444" stroke-width="1.0"/>
<line x1="127.3" y1="635" x2="132.7" y2="635" stroke="#444" stroke-width="1.0"/>
<line x1="220.85" y1="623.3" x2="220.85" y2="663.8" stroke="#444" stroke-width="1.0"/>
<line x1="218.15" y1="623.3" x2="223.55" y2="623.3" stroke="#444" stroke-width="1.0"/>
<line x1="218.15" y1="663.8" x2="223.55" y2="663.8" stroke="#444" stroke-width="1.0"/>
<line x1="61.86" y1="550.22" x2="61.86" y2="588.74" stroke="#444" stroke-width="1.0"/>
<line x1="59.16" y1="550.22" x2="64.56" y2="550.22" stroke="#444" stroke-width="1.0"/>
<line x1="59.16" y1="588.74" x2="64.56" y2="588.74" stroke="#444" stroke-width="1.0"/>
<line x1="84.57" y1="568.04" x2="84.57" y2="616.64" stroke="#444" stroke-width="1.0"/>
<line x1="81.87" y1="568.04" x2="87.27" y2="568.04" stroke="#444" stroke-width="1.0"/>
<line x1="81.87" y1="616.64" x2="87.27" y2="616.64" stroke="#444" stroke-width="1.0"/>
<line x1="130" y1="597.92" x2="130" y2="625.64" stroke="#444" stroke-width="1.0"/>
<line x1="127.3" y1="597.92" x2="132.7" y2="597.92" stroke="#444" stroke-width="1.0"/>
<line x1="127.3" y1="625.64" x2="132.7" y2="625.64" stroke="#444" stroke-width="1.0"/>
<line x1="220.85" y1="613.4" x2="220.85" y2="656.24" stroke="#444" stroke-width="1.0"/>
<line x1="218.15" y1="613.4" x2="223.55" y2="613.4" stroke="#444" stroke-width="1.0"/>
<line x1="218.15" y1="656.24" x2="223.55" y2="656.24" stroke="#444" stroke-width="1.0"/>
<polygon points="61.86,519.3 65.06,522.5 61.86,525.7 58.66,522.5" fill="#000"/>
<polygon points="84.57,525.96 87.77,529.16 84.57,532.36 81.37,529.16" fill="#000"/>
<polygon points="130,521.28 133.2,524.48 130,527.68 126.8,524.48" fill="#000"/>
<polygon points="220.85,530.46 224.05,533.66 220.85,536.86 217.65,533.66" fill="#000"/>
<polygon points="61.86,514.26 65.06,520.02 58.66,520.02" fill="#000"/>
<polygon points="84.57,531.54 87.77,537.3 81.37,537.3" fill="#000"/>
<polygon points="130,541.62 133.2,547.38 126.8,547.38" fill="#000"/>
<polygon points="220.85,581.76 224.05,587.52 217.65,587.52" fill="#000"/>
<rect x="59.26" y="555" width="5.2" height="5.2" fill="#000"/>
<rect x="81.97" y="584.16" width="5.2" height="5.2" fill="#000"/>
<rect x="127.4" y="603.6" width="5.2" height="5.2" fill="#000"/>
<rect x="218.25" y="639.96" width="5.2" height="5.2" fill="#000"/>
<polygon points="61.86,571.96 65.06,566.2 58.66,566.2" fill="#000"/>
<polygon points="84.57,594.1 87.77,588.34 81.37,588.34" fill="#000"/>
<polygon points="130,613.36 133.2,607.6 126.8,607.6" fill="#000"/>
<polygon points="220.85,637.48 224.05,631.72 217.65,631.72" fill="#000"/>
<rect x="36.55" y="505.5" width="5.2" height="5.2" fill="#000"/>
<polygon points="242.6,539.68 245.32,542.4 242.6,545.12 239.88,542.4" fill="#000"/>
<text x="250.51" y="546.7" font-size="12.6" text-anchor="start" fill="#1a1a1a" stroke="#1a1a1a" stroke-width="0.3" >chimera III</text>
<polygon points="243.2,583.78 245.92,588.68 240.48,588.68" fill="#000"/>
<text x="251.91" y="590.3" font-size="12.6" text-anchor="start" fill="#1a1a1a" stroke="#1a1a1a" stroke-width="0.3" >chimera I</text>
<polygon points="244,634.02 246.72,629.12 241.28,629.12" fill="#000"/>
<text x="252.81" y="635.8" font-size="12.6" text-anchor="start" fill="#1a1a1a" stroke="#1a1a1a" stroke-width="0.3" >chimera II</text>
<rect x="241.39" y="642.29" width="4.42" height="4.42" fill="#000"/>
<text x="253.3" y="649.4" font-size="12.6" text-anchor="start" fill="#1a1a1a" stroke="#1a1a1a" stroke-width="0.3" >WT PS</text>
</svg>
</body></html>
